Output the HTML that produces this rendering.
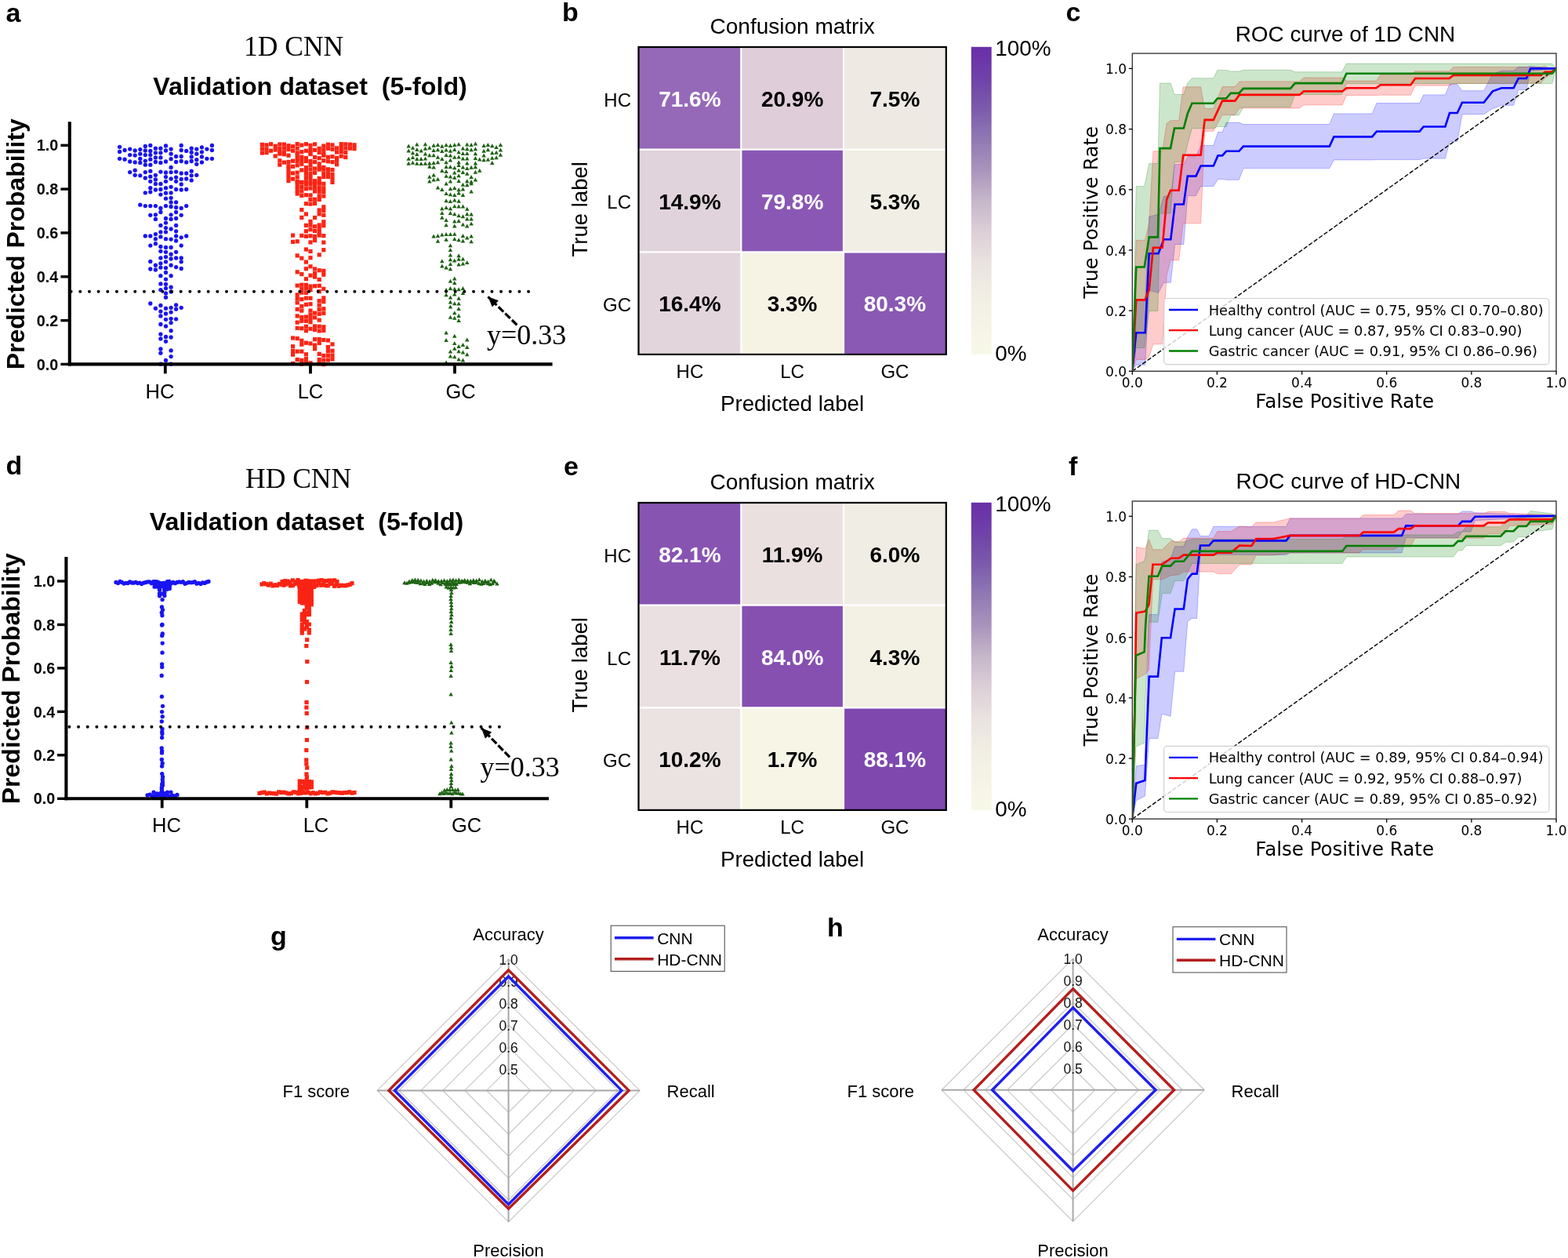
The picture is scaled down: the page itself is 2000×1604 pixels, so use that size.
<!DOCTYPE html>
<html><head><meta charset="utf-8"><style>
html,body{margin:0;padding:0;background:#fff;overflow:hidden;}
svg{display:block;}
text{white-space:pre;}
</style></head><body>
<svg width="2000" height="1604" viewBox="0 0 2000 1604">
<rect width="2000" height="1604" fill="#fff"/>
<text x="7.5" y="28.0" font-family='"Liberation Sans", Arial, sans-serif' font-size="34" font-weight="bold" text-anchor="start" fill="#000">a</text>
<text x="717.0" y="27.0" font-family='"Liberation Sans", Arial, sans-serif' font-size="34" font-weight="bold" text-anchor="start" fill="#000">b</text>
<text x="1359.4" y="26.5" font-family='"Liberation Sans", Arial, sans-serif' font-size="34" font-weight="bold" text-anchor="start" fill="#000">c</text>
<text x="7.5" y="605.0" font-family='"Liberation Sans", Arial, sans-serif' font-size="34" font-weight="bold" text-anchor="start" fill="#000">d</text>
<text x="719.0" y="605.5" font-family='"Liberation Sans", Arial, sans-serif' font-size="34" font-weight="bold" text-anchor="start" fill="#000">e</text>
<text x="1363.0" y="605.5" font-family='"Liberation Sans", Arial, sans-serif' font-size="34" font-weight="bold" text-anchor="start" fill="#000">f</text>
<text x="345.0" y="1205.0" font-family='"Liberation Sans", Arial, sans-serif' font-size="34" font-weight="bold" text-anchor="start" fill="#000">g</text>
<text x="1055.0" y="1194.0" font-family='"Liberation Sans", Arial, sans-serif' font-size="34" font-weight="bold" text-anchor="start" fill="#000">h</text>
<text x="311.0" y="71.0" font-family='"Liberation Serif", "Times New Roman", serif' font-size="35.5" font-weight="normal" text-anchor="start" fill="#000">1D CNN</text>
<text x="395.5" y="120.6" font-family='"Liberation Sans", Arial, sans-serif' font-size="32.2" font-weight="bold" text-anchor="middle" fill="#000">Validation dataset  (5-fold)</text>
<circle cx="152.6" cy="187.3" r="2.65" fill="#1a14f2"/>
<circle cx="152.6" cy="193.4" r="2.65" fill="#1a14f2"/>
<circle cx="152.6" cy="202.3" r="2.65" fill="#1a14f2"/>
<circle cx="159.1" cy="191.5" r="2.65" fill="#1a14f2"/>
<circle cx="159.1" cy="203.2" r="2.65" fill="#1a14f2"/>
<circle cx="165.7" cy="190.1" r="2.65" fill="#1a14f2"/>
<circle cx="165.7" cy="197.6" r="2.65" fill="#1a14f2"/>
<circle cx="165.7" cy="206.0" r="2.65" fill="#1a14f2"/>
<circle cx="172.2" cy="192.0" r="2.65" fill="#1a14f2"/>
<circle cx="172.2" cy="198.1" r="2.65" fill="#1a14f2"/>
<circle cx="172.2" cy="206.9" r="2.65" fill="#1a14f2"/>
<circle cx="178.8" cy="190.6" r="2.65" fill="#1a14f2"/>
<circle cx="178.8" cy="196.2" r="2.65" fill="#1a14f2"/>
<circle cx="178.8" cy="202.3" r="2.65" fill="#1a14f2"/>
<circle cx="178.8" cy="207.4" r="2.65" fill="#1a14f2"/>
<circle cx="185.3" cy="186.4" r="2.65" fill="#1a14f2"/>
<circle cx="185.3" cy="192.0" r="2.65" fill="#1a14f2"/>
<circle cx="185.3" cy="197.6" r="2.65" fill="#1a14f2"/>
<circle cx="185.3" cy="205.1" r="2.65" fill="#1a14f2"/>
<circle cx="185.3" cy="210.2" r="2.65" fill="#1a14f2"/>
<circle cx="191.8" cy="185.4" r="2.65" fill="#1a14f2"/>
<circle cx="191.8" cy="192.4" r="2.65" fill="#1a14f2"/>
<circle cx="191.8" cy="197.6" r="2.65" fill="#1a14f2"/>
<circle cx="191.8" cy="203.2" r="2.65" fill="#1a14f2"/>
<circle cx="191.8" cy="210.2" r="2.65" fill="#1a14f2"/>
<circle cx="198.4" cy="189.2" r="2.65" fill="#1a14f2"/>
<circle cx="198.4" cy="194.8" r="2.65" fill="#1a14f2"/>
<circle cx="198.4" cy="200.9" r="2.65" fill="#1a14f2"/>
<circle cx="198.4" cy="206.5" r="2.65" fill="#1a14f2"/>
<circle cx="204.9" cy="189.2" r="2.65" fill="#1a14f2"/>
<circle cx="204.9" cy="194.8" r="2.65" fill="#1a14f2"/>
<circle cx="204.9" cy="200.9" r="2.65" fill="#1a14f2"/>
<circle cx="204.9" cy="207.4" r="2.65" fill="#1a14f2"/>
<circle cx="211.5" cy="185.9" r="2.65" fill="#1a14f2"/>
<circle cx="211.5" cy="192.0" r="2.65" fill="#1a14f2"/>
<circle cx="211.5" cy="206.0" r="2.65" fill="#1a14f2"/>
<circle cx="218.1" cy="190.1" r="2.65" fill="#1a14f2"/>
<circle cx="218.1" cy="196.2" r="2.65" fill="#1a14f2"/>
<circle cx="218.1" cy="202.7" r="2.65" fill="#1a14f2"/>
<circle cx="224.6" cy="199.5" r="2.65" fill="#1a14f2"/>
<circle cx="224.6" cy="206.5" r="2.65" fill="#1a14f2"/>
<circle cx="231.2" cy="185.4" r="2.65" fill="#1a14f2"/>
<circle cx="231.2" cy="191.5" r="2.65" fill="#1a14f2"/>
<circle cx="231.2" cy="199.5" r="2.65" fill="#1a14f2"/>
<circle cx="231.2" cy="205.5" r="2.65" fill="#1a14f2"/>
<circle cx="237.7" cy="192.4" r="2.65" fill="#1a14f2"/>
<circle cx="237.7" cy="206.9" r="2.65" fill="#1a14f2"/>
<circle cx="244.2" cy="189.2" r="2.65" fill="#1a14f2"/>
<circle cx="244.2" cy="194.3" r="2.65" fill="#1a14f2"/>
<circle cx="244.2" cy="199.9" r="2.65" fill="#1a14f2"/>
<circle cx="244.2" cy="205.5" r="2.65" fill="#1a14f2"/>
<circle cx="250.8" cy="190.1" r="2.65" fill="#1a14f2"/>
<circle cx="250.8" cy="196.2" r="2.65" fill="#1a14f2"/>
<circle cx="250.8" cy="203.7" r="2.65" fill="#1a14f2"/>
<circle cx="250.8" cy="209.3" r="2.65" fill="#1a14f2"/>
<circle cx="257.4" cy="187.8" r="2.65" fill="#1a14f2"/>
<circle cx="257.4" cy="193.8" r="2.65" fill="#1a14f2"/>
<circle cx="257.4" cy="199.9" r="2.65" fill="#1a14f2"/>
<circle cx="257.4" cy="206.9" r="2.65" fill="#1a14f2"/>
<circle cx="263.9" cy="190.1" r="2.65" fill="#1a14f2"/>
<circle cx="263.9" cy="202.3" r="2.65" fill="#1a14f2"/>
<circle cx="270.4" cy="185.4" r="2.65" fill="#1a14f2"/>
<circle cx="270.4" cy="191.5" r="2.65" fill="#1a14f2"/>
<circle cx="270.4" cy="202.3" r="2.65" fill="#1a14f2"/>
<circle cx="218.1" cy="213.5" r="2.65" fill="#1a14f2"/>
<circle cx="218.1" cy="219.6" r="2.65" fill="#1a14f2"/>
<circle cx="218.1" cy="228.0" r="2.65" fill="#1a14f2"/>
<circle cx="165.7" cy="219.6" r="2.65" fill="#1a14f2"/>
<circle cx="172.2" cy="217.2" r="2.65" fill="#1a14f2"/>
<circle cx="172.2" cy="223.3" r="2.65" fill="#1a14f2"/>
<circle cx="178.8" cy="223.8" r="2.65" fill="#1a14f2"/>
<circle cx="185.3" cy="219.6" r="2.65" fill="#1a14f2"/>
<circle cx="185.3" cy="227.0" r="2.65" fill="#1a14f2"/>
<circle cx="191.8" cy="218.2" r="2.65" fill="#1a14f2"/>
<circle cx="191.8" cy="225.2" r="2.65" fill="#1a14f2"/>
<circle cx="191.8" cy="231.3" r="2.65" fill="#1a14f2"/>
<circle cx="198.4" cy="223.3" r="2.65" fill="#1a14f2"/>
<circle cx="198.4" cy="228.9" r="2.65" fill="#1a14f2"/>
<circle cx="198.4" cy="234.5" r="2.65" fill="#1a14f2"/>
<circle cx="204.9" cy="219.1" r="2.65" fill="#1a14f2"/>
<circle cx="204.9" cy="234.5" r="2.65" fill="#1a14f2"/>
<circle cx="211.5" cy="220.0" r="2.65" fill="#1a14f2"/>
<circle cx="211.5" cy="225.6" r="2.65" fill="#1a14f2"/>
<circle cx="211.5" cy="231.3" r="2.65" fill="#1a14f2"/>
<circle cx="224.6" cy="219.1" r="2.65" fill="#1a14f2"/>
<circle cx="224.6" cy="226.1" r="2.65" fill="#1a14f2"/>
<circle cx="224.6" cy="231.3" r="2.65" fill="#1a14f2"/>
<circle cx="231.2" cy="221.0" r="2.65" fill="#1a14f2"/>
<circle cx="231.2" cy="228.4" r="2.65" fill="#1a14f2"/>
<circle cx="231.2" cy="235.0" r="2.65" fill="#1a14f2"/>
<circle cx="237.7" cy="221.0" r="2.65" fill="#1a14f2"/>
<circle cx="237.7" cy="228.0" r="2.65" fill="#1a14f2"/>
<circle cx="244.2" cy="218.2" r="2.65" fill="#1a14f2"/>
<circle cx="244.2" cy="223.8" r="2.65" fill="#1a14f2"/>
<circle cx="244.2" cy="229.9" r="2.65" fill="#1a14f2"/>
<circle cx="250.8" cy="223.3" r="2.65" fill="#1a14f2"/>
<circle cx="185.3" cy="245.8" r="2.65" fill="#1a14f2"/>
<circle cx="191.8" cy="239.7" r="2.65" fill="#1a14f2"/>
<circle cx="191.8" cy="244.8" r="2.65" fill="#1a14f2"/>
<circle cx="198.4" cy="242.0" r="2.65" fill="#1a14f2"/>
<circle cx="204.9" cy="241.5" r="2.65" fill="#1a14f2"/>
<circle cx="204.9" cy="248.1" r="2.65" fill="#1a14f2"/>
<circle cx="211.5" cy="239.7" r="2.65" fill="#1a14f2"/>
<circle cx="211.5" cy="246.2" r="2.65" fill="#1a14f2"/>
<circle cx="211.5" cy="253.2" r="2.65" fill="#1a14f2"/>
<circle cx="218.1" cy="238.3" r="2.65" fill="#1a14f2"/>
<circle cx="218.1" cy="245.8" r="2.65" fill="#1a14f2"/>
<circle cx="218.1" cy="252.3" r="2.65" fill="#1a14f2"/>
<circle cx="218.1" cy="257.9" r="2.65" fill="#1a14f2"/>
<circle cx="224.6" cy="241.5" r="2.65" fill="#1a14f2"/>
<circle cx="224.6" cy="257.9" r="2.65" fill="#1a14f2"/>
<circle cx="231.2" cy="242.0" r="2.65" fill="#1a14f2"/>
<circle cx="237.7" cy="241.5" r="2.65" fill="#1a14f2"/>
<circle cx="178.8" cy="261.2" r="2.65" fill="#1a14f2"/>
<circle cx="185.3" cy="262.6" r="2.65" fill="#1a14f2"/>
<circle cx="191.8" cy="262.6" r="2.65" fill="#1a14f2"/>
<circle cx="191.8" cy="274.3" r="2.65" fill="#1a14f2"/>
<circle cx="198.4" cy="262.6" r="2.65" fill="#1a14f2"/>
<circle cx="198.4" cy="273.8" r="2.65" fill="#1a14f2"/>
<circle cx="198.4" cy="279.4" r="2.65" fill="#1a14f2"/>
<circle cx="204.9" cy="265.4" r="2.65" fill="#1a14f2"/>
<circle cx="204.9" cy="270.5" r="2.65" fill="#1a14f2"/>
<circle cx="211.5" cy="262.6" r="2.65" fill="#1a14f2"/>
<circle cx="211.5" cy="278.5" r="2.65" fill="#1a14f2"/>
<circle cx="211.5" cy="284.1" r="2.65" fill="#1a14f2"/>
<circle cx="218.1" cy="263.5" r="2.65" fill="#1a14f2"/>
<circle cx="218.1" cy="273.8" r="2.65" fill="#1a14f2"/>
<circle cx="218.1" cy="279.4" r="2.65" fill="#1a14f2"/>
<circle cx="224.6" cy="264.5" r="2.65" fill="#1a14f2"/>
<circle cx="224.6" cy="270.5" r="2.65" fill="#1a14f2"/>
<circle cx="224.6" cy="278.5" r="2.65" fill="#1a14f2"/>
<circle cx="231.2" cy="265.4" r="2.65" fill="#1a14f2"/>
<circle cx="231.2" cy="274.3" r="2.65" fill="#1a14f2"/>
<circle cx="237.7" cy="262.6" r="2.65" fill="#1a14f2"/>
<circle cx="204.9" cy="287.4" r="2.65" fill="#1a14f2"/>
<circle cx="204.9" cy="295.8" r="2.65" fill="#1a14f2"/>
<circle cx="204.9" cy="301.9" r="2.65" fill="#1a14f2"/>
<circle cx="204.9" cy="314.5" r="2.65" fill="#1a14f2"/>
<circle cx="211.5" cy="290.6" r="2.65" fill="#1a14f2"/>
<circle cx="211.5" cy="295.8" r="2.65" fill="#1a14f2"/>
<circle cx="211.5" cy="304.7" r="2.65" fill="#1a14f2"/>
<circle cx="211.5" cy="315.4" r="2.65" fill="#1a14f2"/>
<circle cx="218.1" cy="292.0" r="2.65" fill="#1a14f2"/>
<circle cx="218.1" cy="305.1" r="2.65" fill="#1a14f2"/>
<circle cx="218.1" cy="315.4" r="2.65" fill="#1a14f2"/>
<circle cx="224.6" cy="287.4" r="2.65" fill="#1a14f2"/>
<circle cx="224.6" cy="294.8" r="2.65" fill="#1a14f2"/>
<circle cx="224.6" cy="300.9" r="2.65" fill="#1a14f2"/>
<circle cx="224.6" cy="307.0" r="2.65" fill="#1a14f2"/>
<circle cx="198.4" cy="298.6" r="2.65" fill="#1a14f2"/>
<circle cx="198.4" cy="304.7" r="2.65" fill="#1a14f2"/>
<circle cx="198.4" cy="310.7" r="2.65" fill="#1a14f2"/>
<circle cx="191.8" cy="300.9" r="2.65" fill="#1a14f2"/>
<circle cx="191.8" cy="313.1" r="2.65" fill="#1a14f2"/>
<circle cx="185.3" cy="300.9" r="2.65" fill="#1a14f2"/>
<circle cx="231.2" cy="302.8" r="2.65" fill="#1a14f2"/>
<circle cx="231.2" cy="313.1" r="2.65" fill="#1a14f2"/>
<circle cx="237.7" cy="300.9" r="2.65" fill="#1a14f2"/>
<circle cx="191.8" cy="333.4" r="2.65" fill="#1a14f2"/>
<circle cx="191.8" cy="343.0" r="2.65" fill="#1a14f2"/>
<circle cx="191.8" cy="387.0" r="2.65" fill="#1a14f2"/>
<circle cx="198.4" cy="338.2" r="2.65" fill="#1a14f2"/>
<circle cx="198.4" cy="344.0" r="2.65" fill="#1a14f2"/>
<circle cx="198.4" cy="393.2" r="2.65" fill="#1a14f2"/>
<circle cx="204.9" cy="320.3" r="2.65" fill="#1a14f2"/>
<circle cx="204.9" cy="329.0" r="2.65" fill="#1a14f2"/>
<circle cx="204.9" cy="335.8" r="2.65" fill="#1a14f2"/>
<circle cx="204.9" cy="341.1" r="2.65" fill="#1a14f2"/>
<circle cx="204.9" cy="351.7" r="2.65" fill="#1a14f2"/>
<circle cx="204.9" cy="361.9" r="2.65" fill="#1a14f2"/>
<circle cx="204.9" cy="369.6" r="2.65" fill="#1a14f2"/>
<circle cx="204.9" cy="389.4" r="2.65" fill="#1a14f2"/>
<circle cx="204.9" cy="397.1" r="2.65" fill="#1a14f2"/>
<circle cx="204.9" cy="402.9" r="2.65" fill="#1a14f2"/>
<circle cx="204.9" cy="413.5" r="2.65" fill="#1a14f2"/>
<circle cx="204.9" cy="426.1" r="2.65" fill="#1a14f2"/>
<circle cx="204.9" cy="431.9" r="2.65" fill="#1a14f2"/>
<circle cx="204.9" cy="444.9" r="2.65" fill="#1a14f2"/>
<circle cx="204.9" cy="450.2" r="2.65" fill="#1a14f2"/>
<circle cx="204.9" cy="464.2" r="2.65" fill="#1a14f2"/>
<circle cx="211.5" cy="321.3" r="2.65" fill="#1a14f2"/>
<circle cx="211.5" cy="327.6" r="2.65" fill="#1a14f2"/>
<circle cx="211.5" cy="333.8" r="2.65" fill="#1a14f2"/>
<circle cx="211.5" cy="341.6" r="2.65" fill="#1a14f2"/>
<circle cx="211.5" cy="347.4" r="2.65" fill="#1a14f2"/>
<circle cx="211.5" cy="356.1" r="2.65" fill="#1a14f2"/>
<circle cx="211.5" cy="362.3" r="2.65" fill="#1a14f2"/>
<circle cx="211.5" cy="367.6" r="2.65" fill="#1a14f2"/>
<circle cx="211.5" cy="373.9" r="2.65" fill="#1a14f2"/>
<circle cx="211.5" cy="379.2" r="2.65" fill="#1a14f2"/>
<circle cx="211.5" cy="393.2" r="2.65" fill="#1a14f2"/>
<circle cx="211.5" cy="400.0" r="2.65" fill="#1a14f2"/>
<circle cx="211.5" cy="407.3" r="2.65" fill="#1a14f2"/>
<circle cx="211.5" cy="415.9" r="2.65" fill="#1a14f2"/>
<circle cx="211.5" cy="429.5" r="2.65" fill="#1a14f2"/>
<circle cx="211.5" cy="435.3" r="2.65" fill="#1a14f2"/>
<circle cx="211.5" cy="459.4" r="2.65" fill="#1a14f2"/>
<circle cx="218.1" cy="324.2" r="2.65" fill="#1a14f2"/>
<circle cx="218.1" cy="330.0" r="2.65" fill="#1a14f2"/>
<circle cx="218.1" cy="338.2" r="2.65" fill="#1a14f2"/>
<circle cx="218.1" cy="351.7" r="2.65" fill="#1a14f2"/>
<circle cx="218.1" cy="366.2" r="2.65" fill="#1a14f2"/>
<circle cx="218.1" cy="372.0" r="2.65" fill="#1a14f2"/>
<circle cx="218.1" cy="392.3" r="2.65" fill="#1a14f2"/>
<circle cx="218.1" cy="398.1" r="2.65" fill="#1a14f2"/>
<circle cx="218.1" cy="406.3" r="2.65" fill="#1a14f2"/>
<circle cx="218.1" cy="411.6" r="2.65" fill="#1a14f2"/>
<circle cx="218.1" cy="421.7" r="2.65" fill="#1a14f2"/>
<circle cx="218.1" cy="430.0" r="2.65" fill="#1a14f2"/>
<circle cx="218.1" cy="446.9" r="2.65" fill="#1a14f2"/>
<circle cx="218.1" cy="454.6" r="2.65" fill="#1a14f2"/>
<circle cx="218.1" cy="464.2" r="2.65" fill="#1a14f2"/>
<circle cx="224.6" cy="321.3" r="2.65" fill="#1a14f2"/>
<circle cx="224.6" cy="329.0" r="2.65" fill="#1a14f2"/>
<circle cx="224.6" cy="340.6" r="2.65" fill="#1a14f2"/>
<circle cx="224.6" cy="388.9" r="2.65" fill="#1a14f2"/>
<circle cx="224.6" cy="394.2" r="2.65" fill="#1a14f2"/>
<circle cx="224.6" cy="406.8" r="2.65" fill="#1a14f2"/>
<circle cx="231.2" cy="329.0" r="2.65" fill="#1a14f2"/>
<circle cx="231.2" cy="333.8" r="2.65" fill="#1a14f2"/>
<circle cx="231.2" cy="342.5" r="2.65" fill="#1a14f2"/>
<circle cx="231.2" cy="392.3" r="2.65" fill="#1a14f2"/>
<rect x="331.8" y="181.8" width="5.2" height="5.2" fill="#fa2414"/>
<rect x="331.8" y="187.2" width="5.2" height="5.2" fill="#fa2414"/>
<rect x="331.8" y="192.4" width="5.2" height="5.2" fill="#fa2414"/>
<rect x="337.4" y="182.3" width="5.2" height="5.2" fill="#fa2414"/>
<rect x="337.4" y="187.4" width="5.2" height="5.2" fill="#fa2414"/>
<rect x="337.4" y="192.1" width="5.2" height="5.2" fill="#fa2414"/>
<rect x="343.0" y="181.2" width="5.2" height="5.2" fill="#fa2414"/>
<rect x="343.0" y="189.6" width="5.2" height="5.2" fill="#fa2414"/>
<rect x="348.6" y="183.7" width="5.2" height="5.2" fill="#fa2414"/>
<rect x="348.6" y="188.4" width="5.2" height="5.2" fill="#fa2414"/>
<rect x="354.2" y="181.4" width="5.2" height="5.2" fill="#fa2414"/>
<rect x="354.2" y="186.8" width="5.2" height="5.2" fill="#fa2414"/>
<rect x="354.2" y="192.0" width="5.2" height="5.2" fill="#fa2414"/>
<rect x="359.8" y="181.5" width="5.2" height="5.2" fill="#fa2414"/>
<rect x="359.8" y="186.6" width="5.2" height="5.2" fill="#fa2414"/>
<rect x="359.8" y="191.9" width="5.2" height="5.2" fill="#fa2414"/>
<rect x="365.4" y="183.1" width="5.2" height="5.2" fill="#fa2414"/>
<rect x="365.4" y="188.0" width="5.2" height="5.2" fill="#fa2414"/>
<rect x="371.0" y="184.1" width="5.2" height="5.2" fill="#fa2414"/>
<rect x="371.0" y="189.6" width="5.2" height="5.2" fill="#fa2414"/>
<rect x="376.6" y="181.0" width="5.2" height="5.2" fill="#fa2414"/>
<rect x="376.6" y="186.5" width="5.2" height="5.2" fill="#fa2414"/>
<rect x="376.6" y="192.2" width="5.2" height="5.2" fill="#fa2414"/>
<rect x="382.2" y="182.5" width="5.2" height="5.2" fill="#fa2414"/>
<rect x="382.2" y="191.1" width="5.2" height="5.2" fill="#fa2414"/>
<rect x="387.8" y="181.1" width="5.2" height="5.2" fill="#fa2414"/>
<rect x="387.8" y="189.7" width="5.2" height="5.2" fill="#fa2414"/>
<rect x="393.4" y="182.7" width="5.2" height="5.2" fill="#fa2414"/>
<rect x="393.4" y="187.9" width="5.2" height="5.2" fill="#fa2414"/>
<rect x="393.4" y="192.6" width="5.2" height="5.2" fill="#fa2414"/>
<rect x="399.0" y="181.3" width="5.2" height="5.2" fill="#fa2414"/>
<rect x="399.0" y="188.7" width="5.2" height="5.2" fill="#fa2414"/>
<rect x="404.6" y="186.7" width="5.2" height="5.2" fill="#fa2414"/>
<rect x="404.6" y="191.8" width="5.2" height="5.2" fill="#fa2414"/>
<rect x="410.2" y="183.5" width="5.2" height="5.2" fill="#fa2414"/>
<rect x="410.2" y="188.4" width="5.2" height="5.2" fill="#fa2414"/>
<rect x="410.2" y="193.2" width="5.2" height="5.2" fill="#fa2414"/>
<rect x="415.8" y="181.6" width="5.2" height="5.2" fill="#fa2414"/>
<rect x="415.8" y="186.7" width="5.2" height="5.2" fill="#fa2414"/>
<rect x="421.4" y="182.3" width="5.2" height="5.2" fill="#fa2414"/>
<rect x="421.4" y="187.7" width="5.2" height="5.2" fill="#fa2414"/>
<rect x="427.0" y="186.3" width="5.2" height="5.2" fill="#fa2414"/>
<rect x="427.0" y="191.4" width="5.2" height="5.2" fill="#fa2414"/>
<rect x="432.6" y="181.1" width="5.2" height="5.2" fill="#fa2414"/>
<rect x="432.6" y="185.9" width="5.2" height="5.2" fill="#fa2414"/>
<rect x="432.6" y="190.9" width="5.2" height="5.2" fill="#fa2414"/>
<rect x="438.2" y="181.3" width="5.2" height="5.2" fill="#fa2414"/>
<rect x="438.2" y="186.4" width="5.2" height="5.2" fill="#fa2414"/>
<rect x="438.2" y="192.0" width="5.2" height="5.2" fill="#fa2414"/>
<rect x="443.8" y="181.6" width="5.2" height="5.2" fill="#fa2414"/>
<rect x="443.8" y="186.6" width="5.2" height="5.2" fill="#fa2414"/>
<rect x="449.4" y="182.2" width="5.2" height="5.2" fill="#fa2414"/>
<rect x="449.4" y="187.0" width="5.2" height="5.2" fill="#fa2414"/>
<rect x="348.6" y="196.4" width="5.2" height="5.2" fill="#fa2414"/>
<rect x="354.2" y="193.5" width="5.2" height="5.2" fill="#fa2414"/>
<rect x="359.8" y="194.1" width="5.2" height="5.2" fill="#fa2414"/>
<rect x="365.4" y="195.6" width="5.2" height="5.2" fill="#fa2414"/>
<rect x="376.6" y="194.8" width="5.2" height="5.2" fill="#fa2414"/>
<rect x="376.6" y="199.5" width="5.2" height="5.2" fill="#fa2414"/>
<rect x="382.2" y="197.6" width="5.2" height="5.2" fill="#fa2414"/>
<rect x="387.8" y="198.9" width="5.2" height="5.2" fill="#fa2414"/>
<rect x="393.4" y="193.9" width="5.2" height="5.2" fill="#fa2414"/>
<rect x="399.0" y="198.0" width="5.2" height="5.2" fill="#fa2414"/>
<rect x="404.6" y="199.1" width="5.2" height="5.2" fill="#fa2414"/>
<rect x="410.2" y="195.6" width="5.2" height="5.2" fill="#fa2414"/>
<rect x="415.8" y="197.7" width="5.2" height="5.2" fill="#fa2414"/>
<rect x="421.4" y="197.1" width="5.2" height="5.2" fill="#fa2414"/>
<rect x="427.0" y="198.8" width="5.2" height="5.2" fill="#fa2414"/>
<rect x="432.6" y="196.5" width="5.2" height="5.2" fill="#fa2414"/>
<rect x="438.2" y="197.9" width="5.2" height="5.2" fill="#fa2414"/>
<rect x="354.2" y="202.2" width="5.2" height="5.2" fill="#fa2414"/>
<rect x="354.2" y="207.5" width="5.2" height="5.2" fill="#fa2414"/>
<rect x="359.8" y="204.5" width="5.2" height="5.2" fill="#fa2414"/>
<rect x="365.4" y="203.9" width="5.2" height="5.2" fill="#fa2414"/>
<rect x="365.4" y="209.2" width="5.2" height="5.2" fill="#fa2414"/>
<rect x="371.0" y="202.6" width="5.2" height="5.2" fill="#fa2414"/>
<rect x="371.0" y="209.7" width="5.2" height="5.2" fill="#fa2414"/>
<rect x="376.6" y="202.9" width="5.2" height="5.2" fill="#fa2414"/>
<rect x="376.6" y="208.2" width="5.2" height="5.2" fill="#fa2414"/>
<rect x="382.2" y="201.7" width="5.2" height="5.2" fill="#fa2414"/>
<rect x="382.2" y="206.6" width="5.2" height="5.2" fill="#fa2414"/>
<rect x="387.8" y="202.8" width="5.2" height="5.2" fill="#fa2414"/>
<rect x="387.8" y="211.1" width="5.2" height="5.2" fill="#fa2414"/>
<rect x="393.4" y="202.8" width="5.2" height="5.2" fill="#fa2414"/>
<rect x="393.4" y="208.0" width="5.2" height="5.2" fill="#fa2414"/>
<rect x="399.0" y="204.0" width="5.2" height="5.2" fill="#fa2414"/>
<rect x="404.6" y="206.3" width="5.2" height="5.2" fill="#fa2414"/>
<rect x="404.6" y="211.0" width="5.2" height="5.2" fill="#fa2414"/>
<rect x="410.2" y="202.1" width="5.2" height="5.2" fill="#fa2414"/>
<rect x="410.2" y="210.8" width="5.2" height="5.2" fill="#fa2414"/>
<rect x="415.8" y="203.2" width="5.2" height="5.2" fill="#fa2414"/>
<rect x="421.4" y="204.0" width="5.2" height="5.2" fill="#fa2414"/>
<rect x="427.0" y="201.8" width="5.2" height="5.2" fill="#fa2414"/>
<rect x="427.0" y="207.1" width="5.2" height="5.2" fill="#fa2414"/>
<rect x="365.4" y="213.3" width="5.2" height="5.2" fill="#fa2414"/>
<rect x="365.4" y="217.9" width="5.2" height="5.2" fill="#fa2414"/>
<rect x="365.4" y="223.0" width="5.2" height="5.2" fill="#fa2414"/>
<rect x="365.4" y="228.0" width="5.2" height="5.2" fill="#fa2414"/>
<rect x="371.0" y="218.2" width="5.2" height="5.2" fill="#fa2414"/>
<rect x="371.0" y="225.5" width="5.2" height="5.2" fill="#fa2414"/>
<rect x="376.6" y="217.5" width="5.2" height="5.2" fill="#fa2414"/>
<rect x="376.6" y="223.2" width="5.2" height="5.2" fill="#fa2414"/>
<rect x="376.6" y="228.7" width="5.2" height="5.2" fill="#fa2414"/>
<rect x="382.2" y="214.3" width="5.2" height="5.2" fill="#fa2414"/>
<rect x="382.2" y="229.7" width="5.2" height="5.2" fill="#fa2414"/>
<rect x="387.8" y="215.0" width="5.2" height="5.2" fill="#fa2414"/>
<rect x="387.8" y="219.7" width="5.2" height="5.2" fill="#fa2414"/>
<rect x="387.8" y="224.6" width="5.2" height="5.2" fill="#fa2414"/>
<rect x="387.8" y="229.4" width="5.2" height="5.2" fill="#fa2414"/>
<rect x="393.4" y="213.3" width="5.2" height="5.2" fill="#fa2414"/>
<rect x="393.4" y="218.8" width="5.2" height="5.2" fill="#fa2414"/>
<rect x="393.4" y="224.0" width="5.2" height="5.2" fill="#fa2414"/>
<rect x="393.4" y="229.0" width="5.2" height="5.2" fill="#fa2414"/>
<rect x="399.0" y="212.4" width="5.2" height="5.2" fill="#fa2414"/>
<rect x="399.0" y="217.7" width="5.2" height="5.2" fill="#fa2414"/>
<rect x="399.0" y="228.1" width="5.2" height="5.2" fill="#fa2414"/>
<rect x="404.6" y="213.5" width="5.2" height="5.2" fill="#fa2414"/>
<rect x="404.6" y="224.8" width="5.2" height="5.2" fill="#fa2414"/>
<rect x="404.6" y="229.9" width="5.2" height="5.2" fill="#fa2414"/>
<rect x="410.2" y="212.8" width="5.2" height="5.2" fill="#fa2414"/>
<rect x="410.2" y="218.2" width="5.2" height="5.2" fill="#fa2414"/>
<rect x="410.2" y="223.0" width="5.2" height="5.2" fill="#fa2414"/>
<rect x="415.8" y="213.2" width="5.2" height="5.2" fill="#fa2414"/>
<rect x="415.8" y="218.1" width="5.2" height="5.2" fill="#fa2414"/>
<rect x="415.8" y="222.9" width="5.2" height="5.2" fill="#fa2414"/>
<rect x="421.4" y="213.9" width="5.2" height="5.2" fill="#fa2414"/>
<rect x="421.4" y="219.7" width="5.2" height="5.2" fill="#fa2414"/>
<rect x="421.4" y="224.7" width="5.2" height="5.2" fill="#fa2414"/>
<rect x="421.4" y="229.8" width="5.2" height="5.2" fill="#fa2414"/>
<rect x="376.6" y="230.5" width="5.2" height="5.2" fill="#fa2414"/>
<rect x="376.6" y="235.1" width="5.2" height="5.2" fill="#fa2414"/>
<rect x="376.6" y="239.8" width="5.2" height="5.2" fill="#fa2414"/>
<rect x="376.6" y="244.4" width="5.2" height="5.2" fill="#fa2414"/>
<rect x="382.2" y="230.5" width="5.2" height="5.2" fill="#fa2414"/>
<rect x="382.2" y="235.8" width="5.2" height="5.2" fill="#fa2414"/>
<rect x="382.2" y="241.2" width="5.2" height="5.2" fill="#fa2414"/>
<rect x="382.2" y="246.8" width="5.2" height="5.2" fill="#fa2414"/>
<rect x="387.8" y="232.6" width="5.2" height="5.2" fill="#fa2414"/>
<rect x="387.8" y="238.1" width="5.2" height="5.2" fill="#fa2414"/>
<rect x="387.8" y="246.1" width="5.2" height="5.2" fill="#fa2414"/>
<rect x="393.4" y="232.1" width="5.2" height="5.2" fill="#fa2414"/>
<rect x="393.4" y="237.4" width="5.2" height="5.2" fill="#fa2414"/>
<rect x="393.4" y="246.3" width="5.2" height="5.2" fill="#fa2414"/>
<rect x="399.0" y="231.8" width="5.2" height="5.2" fill="#fa2414"/>
<rect x="399.0" y="236.7" width="5.2" height="5.2" fill="#fa2414"/>
<rect x="399.0" y="241.4" width="5.2" height="5.2" fill="#fa2414"/>
<rect x="404.6" y="231.6" width="5.2" height="5.2" fill="#fa2414"/>
<rect x="404.6" y="237.0" width="5.2" height="5.2" fill="#fa2414"/>
<rect x="404.6" y="241.7" width="5.2" height="5.2" fill="#fa2414"/>
<rect x="404.6" y="247.2" width="5.2" height="5.2" fill="#fa2414"/>
<rect x="410.2" y="231.7" width="5.2" height="5.2" fill="#fa2414"/>
<rect x="410.2" y="237.2" width="5.2" height="5.2" fill="#fa2414"/>
<rect x="410.2" y="241.9" width="5.2" height="5.2" fill="#fa2414"/>
<rect x="410.2" y="247.4" width="5.2" height="5.2" fill="#fa2414"/>
<rect x="382.2" y="264.9" width="5.2" height="5.2" fill="#fa2414"/>
<rect x="382.2" y="274.8" width="5.2" height="5.2" fill="#fa2414"/>
<rect x="387.8" y="257.1" width="5.2" height="5.2" fill="#fa2414"/>
<rect x="387.8" y="270.4" width="5.2" height="5.2" fill="#fa2414"/>
<rect x="387.8" y="284.8" width="5.2" height="5.2" fill="#fa2414"/>
<rect x="387.8" y="292.2" width="5.2" height="5.2" fill="#fa2414"/>
<rect x="393.4" y="251.8" width="5.2" height="5.2" fill="#fa2414"/>
<rect x="393.4" y="257.5" width="5.2" height="5.2" fill="#fa2414"/>
<rect x="393.4" y="279.8" width="5.2" height="5.2" fill="#fa2414"/>
<rect x="393.4" y="284.5" width="5.2" height="5.2" fill="#fa2414"/>
<rect x="393.4" y="290.1" width="5.2" height="5.2" fill="#fa2414"/>
<rect x="399.0" y="251.6" width="5.2" height="5.2" fill="#fa2414"/>
<rect x="399.0" y="256.8" width="5.2" height="5.2" fill="#fa2414"/>
<rect x="399.0" y="274.9" width="5.2" height="5.2" fill="#fa2414"/>
<rect x="399.0" y="286.2" width="5.2" height="5.2" fill="#fa2414"/>
<rect x="399.0" y="291.9" width="5.2" height="5.2" fill="#fa2414"/>
<rect x="404.6" y="251.8" width="5.2" height="5.2" fill="#fa2414"/>
<rect x="404.6" y="265.4" width="5.2" height="5.2" fill="#fa2414"/>
<rect x="404.6" y="270.2" width="5.2" height="5.2" fill="#fa2414"/>
<rect x="404.6" y="284.4" width="5.2" height="5.2" fill="#fa2414"/>
<rect x="404.6" y="289.1" width="5.2" height="5.2" fill="#fa2414"/>
<rect x="404.6" y="293.8" width="5.2" height="5.2" fill="#fa2414"/>
<rect x="410.2" y="261.2" width="5.2" height="5.2" fill="#fa2414"/>
<rect x="410.2" y="265.9" width="5.2" height="5.2" fill="#fa2414"/>
<rect x="410.2" y="271.7" width="5.2" height="5.2" fill="#fa2414"/>
<rect x="410.2" y="280.2" width="5.2" height="5.2" fill="#fa2414"/>
<rect x="410.2" y="285.1" width="5.2" height="5.2" fill="#fa2414"/>
<rect x="371.0" y="297.5" width="5.2" height="5.2" fill="#fa2414"/>
<rect x="371.0" y="305.8" width="5.2" height="5.2" fill="#fa2414"/>
<rect x="376.6" y="305.2" width="5.2" height="5.2" fill="#fa2414"/>
<rect x="382.2" y="297.8" width="5.2" height="5.2" fill="#fa2414"/>
<rect x="387.8" y="298.7" width="5.2" height="5.2" fill="#fa2414"/>
<rect x="393.4" y="298.2" width="5.2" height="5.2" fill="#fa2414"/>
<rect x="393.4" y="306.3" width="5.2" height="5.2" fill="#fa2414"/>
<rect x="399.0" y="298.8" width="5.2" height="5.2" fill="#fa2414"/>
<rect x="399.0" y="303.9" width="5.2" height="5.2" fill="#fa2414"/>
<rect x="404.6" y="297.4" width="5.2" height="5.2" fill="#fa2414"/>
<rect x="410.2" y="298.0" width="5.2" height="5.2" fill="#fa2414"/>
<rect x="410.2" y="306.5" width="5.2" height="5.2" fill="#fa2414"/>
<rect x="376.6" y="323.3" width="5.2" height="5.2" fill="#fa2414"/>
<rect x="376.6" y="344.2" width="5.2" height="5.2" fill="#fa2414"/>
<rect x="382.2" y="326.6" width="5.2" height="5.2" fill="#fa2414"/>
<rect x="382.2" y="347.0" width="5.2" height="5.2" fill="#fa2414"/>
<rect x="387.8" y="315.4" width="5.2" height="5.2" fill="#fa2414"/>
<rect x="387.8" y="331.5" width="5.2" height="5.2" fill="#fa2414"/>
<rect x="387.8" y="340.1" width="5.2" height="5.2" fill="#fa2414"/>
<rect x="387.8" y="353.1" width="5.2" height="5.2" fill="#fa2414"/>
<rect x="393.4" y="317.9" width="5.2" height="5.2" fill="#fa2414"/>
<rect x="393.4" y="326.1" width="5.2" height="5.2" fill="#fa2414"/>
<rect x="393.4" y="337.2" width="5.2" height="5.2" fill="#fa2414"/>
<rect x="393.4" y="348.6" width="5.2" height="5.2" fill="#fa2414"/>
<rect x="399.0" y="340.3" width="5.2" height="5.2" fill="#fa2414"/>
<rect x="399.0" y="345.8" width="5.2" height="5.2" fill="#fa2414"/>
<rect x="399.0" y="350.5" width="5.2" height="5.2" fill="#fa2414"/>
<rect x="404.6" y="322.3" width="5.2" height="5.2" fill="#fa2414"/>
<rect x="404.6" y="342.1" width="5.2" height="5.2" fill="#fa2414"/>
<rect x="404.6" y="353.8" width="5.2" height="5.2" fill="#fa2414"/>
<rect x="410.2" y="316.1" width="5.2" height="5.2" fill="#fa2414"/>
<rect x="410.2" y="342.7" width="5.2" height="5.2" fill="#fa2414"/>
<rect x="410.2" y="347.6" width="5.2" height="5.2" fill="#fa2414"/>
<rect x="376.6" y="361.5" width="5.2" height="5.2" fill="#fa2414"/>
<rect x="376.6" y="373.2" width="5.2" height="5.2" fill="#fa2414"/>
<rect x="382.2" y="360.6" width="5.2" height="5.2" fill="#fa2414"/>
<rect x="382.2" y="365.7" width="5.2" height="5.2" fill="#fa2414"/>
<rect x="382.2" y="370.5" width="5.2" height="5.2" fill="#fa2414"/>
<rect x="387.8" y="360.7" width="5.2" height="5.2" fill="#fa2414"/>
<rect x="387.8" y="365.3" width="5.2" height="5.2" fill="#fa2414"/>
<rect x="387.8" y="370.7" width="5.2" height="5.2" fill="#fa2414"/>
<rect x="393.4" y="362.4" width="5.2" height="5.2" fill="#fa2414"/>
<rect x="393.4" y="367.1" width="5.2" height="5.2" fill="#fa2414"/>
<rect x="399.0" y="362.1" width="5.2" height="5.2" fill="#fa2414"/>
<rect x="404.6" y="361.7" width="5.2" height="5.2" fill="#fa2414"/>
<rect x="404.6" y="369.0" width="5.2" height="5.2" fill="#fa2414"/>
<rect x="410.2" y="365.7" width="5.2" height="5.2" fill="#fa2414"/>
<rect x="376.6" y="378.1" width="5.2" height="5.2" fill="#fa2414"/>
<rect x="376.6" y="383.3" width="5.2" height="5.2" fill="#fa2414"/>
<rect x="376.6" y="391.7" width="5.2" height="5.2" fill="#fa2414"/>
<rect x="376.6" y="400.3" width="5.2" height="5.2" fill="#fa2414"/>
<rect x="376.6" y="408.5" width="5.2" height="5.2" fill="#fa2414"/>
<rect x="382.2" y="379.0" width="5.2" height="5.2" fill="#fa2414"/>
<rect x="382.2" y="387.9" width="5.2" height="5.2" fill="#fa2414"/>
<rect x="382.2" y="393.5" width="5.2" height="5.2" fill="#fa2414"/>
<rect x="382.2" y="401.9" width="5.2" height="5.2" fill="#fa2414"/>
<rect x="382.2" y="406.7" width="5.2" height="5.2" fill="#fa2414"/>
<rect x="387.8" y="377.5" width="5.2" height="5.2" fill="#fa2414"/>
<rect x="387.8" y="385.7" width="5.2" height="5.2" fill="#fa2414"/>
<rect x="387.8" y="401.4" width="5.2" height="5.2" fill="#fa2414"/>
<rect x="387.8" y="406.7" width="5.2" height="5.2" fill="#fa2414"/>
<rect x="393.4" y="377.6" width="5.2" height="5.2" fill="#fa2414"/>
<rect x="393.4" y="385.1" width="5.2" height="5.2" fill="#fa2414"/>
<rect x="393.4" y="393.5" width="5.2" height="5.2" fill="#fa2414"/>
<rect x="393.4" y="398.7" width="5.2" height="5.2" fill="#fa2414"/>
<rect x="393.4" y="403.4" width="5.2" height="5.2" fill="#fa2414"/>
<rect x="393.4" y="408.1" width="5.2" height="5.2" fill="#fa2414"/>
<rect x="399.0" y="396.5" width="5.2" height="5.2" fill="#fa2414"/>
<rect x="399.0" y="402.3" width="5.2" height="5.2" fill="#fa2414"/>
<rect x="404.6" y="381.0" width="5.2" height="5.2" fill="#fa2414"/>
<rect x="404.6" y="386.5" width="5.2" height="5.2" fill="#fa2414"/>
<rect x="404.6" y="392.1" width="5.2" height="5.2" fill="#fa2414"/>
<rect x="404.6" y="397.7" width="5.2" height="5.2" fill="#fa2414"/>
<rect x="404.6" y="405.5" width="5.2" height="5.2" fill="#fa2414"/>
<rect x="410.2" y="377.3" width="5.2" height="5.2" fill="#fa2414"/>
<rect x="410.2" y="382.1" width="5.2" height="5.2" fill="#fa2414"/>
<rect x="410.2" y="391.2" width="5.2" height="5.2" fill="#fa2414"/>
<rect x="410.2" y="396.7" width="5.2" height="5.2" fill="#fa2414"/>
<rect x="376.6" y="415.7" width="5.2" height="5.2" fill="#fa2414"/>
<rect x="382.2" y="416.1" width="5.2" height="5.2" fill="#fa2414"/>
<rect x="387.8" y="413.6" width="5.2" height="5.2" fill="#fa2414"/>
<rect x="387.8" y="419.1" width="5.2" height="5.2" fill="#fa2414"/>
<rect x="393.4" y="416.6" width="5.2" height="5.2" fill="#fa2414"/>
<rect x="399.0" y="413.3" width="5.2" height="5.2" fill="#fa2414"/>
<rect x="399.0" y="417.9" width="5.2" height="5.2" fill="#fa2414"/>
<rect x="404.6" y="413.6" width="5.2" height="5.2" fill="#fa2414"/>
<rect x="404.6" y="419.3" width="5.2" height="5.2" fill="#fa2414"/>
<rect x="410.2" y="414.2" width="5.2" height="5.2" fill="#fa2414"/>
<rect x="410.2" y="418.8" width="5.2" height="5.2" fill="#fa2414"/>
<rect x="371.0" y="428.4" width="5.2" height="5.2" fill="#fa2414"/>
<rect x="371.0" y="439.1" width="5.2" height="5.2" fill="#fa2414"/>
<rect x="371.0" y="444.8" width="5.2" height="5.2" fill="#fa2414"/>
<rect x="371.0" y="449.6" width="5.2" height="5.2" fill="#fa2414"/>
<rect x="371.0" y="460.8" width="5.2" height="5.2" fill="#fa2414"/>
<rect x="376.6" y="429.0" width="5.2" height="5.2" fill="#fa2414"/>
<rect x="376.6" y="445.5" width="5.2" height="5.2" fill="#fa2414"/>
<rect x="376.6" y="455.9" width="5.2" height="5.2" fill="#fa2414"/>
<rect x="382.2" y="431.7" width="5.2" height="5.2" fill="#fa2414"/>
<rect x="382.2" y="436.6" width="5.2" height="5.2" fill="#fa2414"/>
<rect x="382.2" y="445.5" width="5.2" height="5.2" fill="#fa2414"/>
<rect x="382.2" y="456.8" width="5.2" height="5.2" fill="#fa2414"/>
<rect x="382.2" y="461.5" width="5.2" height="5.2" fill="#fa2414"/>
<rect x="387.8" y="434.6" width="5.2" height="5.2" fill="#fa2414"/>
<rect x="387.8" y="449.2" width="5.2" height="5.2" fill="#fa2414"/>
<rect x="387.8" y="454.9" width="5.2" height="5.2" fill="#fa2414"/>
<rect x="387.8" y="459.8" width="5.2" height="5.2" fill="#fa2414"/>
<rect x="393.4" y="435.4" width="5.2" height="5.2" fill="#fa2414"/>
<rect x="393.4" y="460.2" width="5.2" height="5.2" fill="#fa2414"/>
<rect x="399.0" y="430.1" width="5.2" height="5.2" fill="#fa2414"/>
<rect x="399.0" y="437.5" width="5.2" height="5.2" fill="#fa2414"/>
<rect x="399.0" y="442.2" width="5.2" height="5.2" fill="#fa2414"/>
<rect x="404.6" y="430.0" width="5.2" height="5.2" fill="#fa2414"/>
<rect x="404.6" y="434.9" width="5.2" height="5.2" fill="#fa2414"/>
<rect x="404.6" y="448.7" width="5.2" height="5.2" fill="#fa2414"/>
<rect x="404.6" y="456.0" width="5.2" height="5.2" fill="#fa2414"/>
<rect x="404.6" y="461.1" width="5.2" height="5.2" fill="#fa2414"/>
<rect x="410.2" y="430.9" width="5.2" height="5.2" fill="#fa2414"/>
<rect x="410.2" y="450.8" width="5.2" height="5.2" fill="#fa2414"/>
<rect x="410.2" y="456.5" width="5.2" height="5.2" fill="#fa2414"/>
<rect x="410.2" y="462.0" width="5.2" height="5.2" fill="#fa2414"/>
<rect x="415.8" y="431.4" width="5.2" height="5.2" fill="#fa2414"/>
<rect x="415.8" y="439.9" width="5.2" height="5.2" fill="#fa2414"/>
<rect x="415.8" y="445.1" width="5.2" height="5.2" fill="#fa2414"/>
<rect x="415.8" y="450.7" width="5.2" height="5.2" fill="#fa2414"/>
<rect x="415.8" y="456.4" width="5.2" height="5.2" fill="#fa2414"/>
<rect x="421.4" y="436.3" width="5.2" height="5.2" fill="#fa2414"/>
<rect x="421.4" y="444.7" width="5.2" height="5.2" fill="#fa2414"/>
<rect x="421.4" y="450.4" width="5.2" height="5.2" fill="#fa2414"/>
<rect x="421.4" y="455.3" width="5.2" height="5.2" fill="#fa2414"/>
<polygon points="521.2,183.5 523.9,188.5 518.4,188.5" fill="#1d6213"/>
<polygon points="521.2,189.6 523.9,194.6 518.4,194.6" fill="#1d6213"/>
<polygon points="521.2,199.7 523.9,204.7 518.4,204.7" fill="#1d6213"/>
<polygon points="521.2,205.7 523.9,210.7 518.4,210.7" fill="#1d6213"/>
<polygon points="526.5,185.7 529.2,190.7 523.8,190.7" fill="#1d6213"/>
<polygon points="526.5,192.3 529.2,197.3 523.8,197.3" fill="#1d6213"/>
<polygon points="526.5,198.0 529.2,203.0 523.8,203.0" fill="#1d6213"/>
<polygon points="526.5,204.7 529.2,209.7 523.8,209.7" fill="#1d6213"/>
<polygon points="531.8,181.5 534.6,186.5 529.1,186.5" fill="#1d6213"/>
<polygon points="531.8,188.1 534.6,193.1 529.1,193.1" fill="#1d6213"/>
<polygon points="531.8,193.9 534.6,198.9 529.1,198.9" fill="#1d6213"/>
<polygon points="531.8,199.9 534.6,204.9 529.1,204.9" fill="#1d6213"/>
<polygon points="531.8,205.7 534.6,210.7 529.1,210.7" fill="#1d6213"/>
<polygon points="537.2,189.6 539.9,194.6 534.4,194.6" fill="#1d6213"/>
<polygon points="537.2,200.1 539.9,205.1 534.4,205.1" fill="#1d6213"/>
<polygon points="537.2,205.9 539.9,210.9 534.4,210.9" fill="#1d6213"/>
<polygon points="542.5,181.2 545.2,186.2 539.7,186.2" fill="#1d6213"/>
<polygon points="542.5,186.8 545.2,191.8 539.7,191.8" fill="#1d6213"/>
<polygon points="542.5,193.4 545.2,198.4 539.7,198.4" fill="#1d6213"/>
<polygon points="542.5,199.6 545.2,204.6 539.7,204.6" fill="#1d6213"/>
<polygon points="542.5,205.7 545.2,210.7 539.7,210.7" fill="#1d6213"/>
<polygon points="547.8,185.7 550.6,190.7 545.1,190.7" fill="#1d6213"/>
<polygon points="547.8,195.3 550.6,200.3 545.1,200.3" fill="#1d6213"/>
<polygon points="547.8,205.5 550.6,210.5 545.1,210.5" fill="#1d6213"/>
<polygon points="553.1,182.8 555.9,187.8 550.4,187.8" fill="#1d6213"/>
<polygon points="553.1,188.9 555.9,193.9 550.4,193.9" fill="#1d6213"/>
<polygon points="553.1,195.3 555.9,200.3 550.4,200.3" fill="#1d6213"/>
<polygon points="553.1,205.0 555.9,210.0 550.4,210.0" fill="#1d6213"/>
<polygon points="558.5,181.9 561.2,186.9 555.7,186.9" fill="#1d6213"/>
<polygon points="558.5,188.3 561.2,193.3 555.7,193.3" fill="#1d6213"/>
<polygon points="558.5,197.7 561.2,202.7 555.7,202.7" fill="#1d6213"/>
<polygon points="558.5,204.2 561.2,209.2 555.7,209.2" fill="#1d6213"/>
<polygon points="563.8,183.8 566.6,188.8 561.1,188.8" fill="#1d6213"/>
<polygon points="563.8,190.0 566.6,195.0 561.1,195.0" fill="#1d6213"/>
<polygon points="563.8,200.0 566.6,205.0 561.1,205.0" fill="#1d6213"/>
<polygon points="569.1,182.3 571.9,187.3 566.4,187.3" fill="#1d6213"/>
<polygon points="569.1,188.5 571.9,193.5 566.4,193.5" fill="#1d6213"/>
<polygon points="569.1,195.1 571.9,200.1 566.4,200.1" fill="#1d6213"/>
<polygon points="569.1,204.3 571.9,209.3 566.4,209.3" fill="#1d6213"/>
<polygon points="574.5,183.1 577.2,188.1 571.7,188.1" fill="#1d6213"/>
<polygon points="574.5,189.8 577.2,194.8 571.7,194.8" fill="#1d6213"/>
<polygon points="574.5,195.5 577.2,200.5 571.7,200.5" fill="#1d6213"/>
<polygon points="574.5,201.6 577.2,206.6 571.7,206.6" fill="#1d6213"/>
<polygon points="579.8,181.9 582.5,186.9 577.0,186.9" fill="#1d6213"/>
<polygon points="579.8,187.9 582.5,192.9 577.0,192.9" fill="#1d6213"/>
<polygon points="579.8,197.7 582.5,202.7 577.0,202.7" fill="#1d6213"/>
<polygon points="585.1,181.2 587.9,186.2 582.4,186.2" fill="#1d6213"/>
<polygon points="585.1,191.3 587.9,196.3 582.4,196.3" fill="#1d6213"/>
<polygon points="585.1,197.6 587.9,202.6 582.4,202.6" fill="#1d6213"/>
<polygon points="585.1,204.3 587.9,209.3 582.4,209.3" fill="#1d6213"/>
<polygon points="590.5,186.6 593.2,191.6 587.7,191.6" fill="#1d6213"/>
<polygon points="590.5,192.9 593.2,197.9 587.7,197.9" fill="#1d6213"/>
<polygon points="590.5,199.5 593.2,204.5 587.7,204.5" fill="#1d6213"/>
<polygon points="595.8,181.4 598.5,186.4 593.0,186.4" fill="#1d6213"/>
<polygon points="595.8,187.3 598.5,192.3 593.0,192.3" fill="#1d6213"/>
<polygon points="595.8,193.1 598.5,198.1 593.0,198.1" fill="#1d6213"/>
<polygon points="595.8,199.6 598.5,204.6 593.0,204.6" fill="#1d6213"/>
<polygon points="595.8,205.5 598.5,210.5 593.0,210.5" fill="#1d6213"/>
<polygon points="601.1,181.9 603.9,186.9 598.4,186.9" fill="#1d6213"/>
<polygon points="601.1,188.3 603.9,193.3 598.4,193.3" fill="#1d6213"/>
<polygon points="606.4,180.6 609.2,185.6 603.7,185.6" fill="#1d6213"/>
<polygon points="606.4,187.3 609.2,192.3 603.7,192.3" fill="#1d6213"/>
<polygon points="606.4,193.2 609.2,198.2 603.7,198.2" fill="#1d6213"/>
<polygon points="606.4,199.0 609.2,204.0 603.7,204.0" fill="#1d6213"/>
<polygon points="606.4,205.5 609.2,210.5 603.7,210.5" fill="#1d6213"/>
<polygon points="611.8,200.5 614.5,205.5 609.0,205.5" fill="#1d6213"/>
<polygon points="617.1,183.0 619.9,188.0 614.4,188.0" fill="#1d6213"/>
<polygon points="617.1,189.7 619.9,194.7 614.4,194.7" fill="#1d6213"/>
<polygon points="617.1,195.6 619.9,200.6 614.4,200.6" fill="#1d6213"/>
<polygon points="617.1,201.3 619.9,206.3 614.4,206.3" fill="#1d6213"/>
<polygon points="622.4,182.1 625.2,187.1 619.7,187.1" fill="#1d6213"/>
<polygon points="622.4,188.3 625.2,193.3 619.7,193.3" fill="#1d6213"/>
<polygon points="622.4,200.7 625.2,205.7 619.7,205.7" fill="#1d6213"/>
<polygon points="627.8,183.3 630.5,188.3 625.0,188.3" fill="#1d6213"/>
<polygon points="627.8,192.3 630.5,197.3 625.0,197.3" fill="#1d6213"/>
<polygon points="627.8,198.7 630.5,203.7 625.0,203.7" fill="#1d6213"/>
<polygon points="627.8,205.0 630.5,210.0 625.0,210.0" fill="#1d6213"/>
<polygon points="633.1,185.0 635.8,190.0 630.3,190.0" fill="#1d6213"/>
<polygon points="633.1,191.7 635.8,196.7 630.3,196.7" fill="#1d6213"/>
<polygon points="633.1,198.2 635.8,203.2 630.3,203.2" fill="#1d6213"/>
<polygon points="638.4,182.1 641.2,187.1 635.7,187.1" fill="#1d6213"/>
<polygon points="638.4,188.6 641.2,193.6 635.7,193.6" fill="#1d6213"/>
<polygon points="638.4,194.7 641.2,199.7 635.7,199.7" fill="#1d6213"/>
<polygon points="547.8,209.7 550.6,214.7 545.1,214.7" fill="#1d6213"/>
<polygon points="547.8,222.7 550.6,227.7 545.1,227.7" fill="#1d6213"/>
<polygon points="547.8,228.6 550.6,233.6 545.1,233.6" fill="#1d6213"/>
<polygon points="553.1,210.6 555.9,215.6 550.4,215.6" fill="#1d6213"/>
<polygon points="553.1,220.6 555.9,225.6 550.4,225.6" fill="#1d6213"/>
<polygon points="553.1,226.5 555.9,231.5 550.4,231.5" fill="#1d6213"/>
<polygon points="558.5,225.8 561.2,230.8 555.7,230.8" fill="#1d6213"/>
<polygon points="563.8,215.0 566.6,220.0 561.1,220.0" fill="#1d6213"/>
<polygon points="569.1,209.9 571.9,214.9 566.4,214.9" fill="#1d6213"/>
<polygon points="569.1,215.9 571.9,220.9 566.4,220.9" fill="#1d6213"/>
<polygon points="569.1,221.8 571.9,226.8 566.4,226.8" fill="#1d6213"/>
<polygon points="574.5,209.9 577.2,214.9 571.7,214.9" fill="#1d6213"/>
<polygon points="574.5,222.5 577.2,227.5 571.7,227.5" fill="#1d6213"/>
<polygon points="574.5,228.5 577.2,233.5 571.7,233.5" fill="#1d6213"/>
<polygon points="579.8,211.3 582.5,216.3 577.0,216.3" fill="#1d6213"/>
<polygon points="579.8,217.4 582.5,222.4 577.0,222.4" fill="#1d6213"/>
<polygon points="579.8,223.8 582.5,228.8 577.0,228.8" fill="#1d6213"/>
<polygon points="585.1,208.1 587.9,213.1 582.4,213.1" fill="#1d6213"/>
<polygon points="585.1,214.5 587.9,219.5 582.4,219.5" fill="#1d6213"/>
<polygon points="585.1,221.2 587.9,226.2 582.4,226.2" fill="#1d6213"/>
<polygon points="585.1,227.9 587.9,232.9 582.4,232.9" fill="#1d6213"/>
<polygon points="590.5,210.4 593.2,215.4 587.7,215.4" fill="#1d6213"/>
<polygon points="590.5,216.9 593.2,221.9 587.7,221.9" fill="#1d6213"/>
<polygon points="595.8,211.9 598.5,216.9 593.0,216.9" fill="#1d6213"/>
<polygon points="595.8,218.7 598.5,223.7 593.0,223.7" fill="#1d6213"/>
<polygon points="595.8,228.2 598.5,233.2 593.0,233.2" fill="#1d6213"/>
<polygon points="601.1,210.7 603.9,215.7 598.4,215.7" fill="#1d6213"/>
<polygon points="601.1,223.1 603.9,228.1 598.4,228.1" fill="#1d6213"/>
<polygon points="601.1,229.1 603.9,234.1 598.4,234.1" fill="#1d6213"/>
<polygon points="606.4,210.3 609.2,215.3 603.7,215.3" fill="#1d6213"/>
<polygon points="606.4,216.8 609.2,221.8 603.7,221.8" fill="#1d6213"/>
<polygon points="606.4,226.5 609.2,231.5 603.7,231.5" fill="#1d6213"/>
<polygon points="611.8,214.7 614.5,219.7 609.0,219.7" fill="#1d6213"/>
<polygon points="558.5,236.5 561.2,241.5 555.7,241.5" fill="#1d6213"/>
<polygon points="563.8,239.1 566.6,244.1 561.1,244.1" fill="#1d6213"/>
<polygon points="569.1,231.4 571.9,236.4 566.4,236.4" fill="#1d6213"/>
<polygon points="574.5,237.9 577.2,242.9 571.7,242.9" fill="#1d6213"/>
<polygon points="579.8,237.1 582.5,242.1 577.0,242.1" fill="#1d6213"/>
<polygon points="585.1,239.3 587.9,244.3 582.4,244.3" fill="#1d6213"/>
<polygon points="590.5,232.8 593.2,237.8 587.7,237.8" fill="#1d6213"/>
<polygon points="590.5,238.6 593.2,243.6 587.7,243.6" fill="#1d6213"/>
<polygon points="595.8,233.2 598.5,238.2 593.0,238.2" fill="#1d6213"/>
<polygon points="601.1,231.3 603.9,236.3 598.4,236.3" fill="#1d6213"/>
<polygon points="601.1,241.4 603.9,246.4 598.4,246.4" fill="#1d6213"/>
<polygon points="569.1,244.1 571.9,249.1 566.4,249.1" fill="#1d6213"/>
<polygon points="569.1,253.2 571.9,258.2 566.4,258.2" fill="#1d6213"/>
<polygon points="574.5,245.2 577.2,250.2 571.7,250.2" fill="#1d6213"/>
<polygon points="574.5,254.1 577.2,259.1 571.7,259.1" fill="#1d6213"/>
<polygon points="579.8,246.1 582.5,251.1 577.0,251.1" fill="#1d6213"/>
<polygon points="579.8,252.5 582.5,257.5 577.0,257.5" fill="#1d6213"/>
<polygon points="585.1,243.6 587.9,248.6 582.4,248.6" fill="#1d6213"/>
<polygon points="585.1,253.7 587.9,258.7 582.4,258.7" fill="#1d6213"/>
<polygon points="590.5,246.1 593.2,251.1 587.7,251.1" fill="#1d6213"/>
<polygon points="563.8,263.2 566.6,268.2 561.1,268.2" fill="#1d6213"/>
<polygon points="563.8,268.9 566.6,273.9 561.1,273.9" fill="#1d6213"/>
<polygon points="563.8,274.7 566.6,279.7 561.1,279.7" fill="#1d6213"/>
<polygon points="569.1,262.0 571.9,267.0 566.4,267.0" fill="#1d6213"/>
<polygon points="569.1,278.0 571.9,283.0 566.4,283.0" fill="#1d6213"/>
<polygon points="569.1,284.2 571.9,289.2 566.4,289.2" fill="#1d6213"/>
<polygon points="574.5,263.3 577.2,268.3 571.7,268.3" fill="#1d6213"/>
<polygon points="574.5,269.0 577.2,274.0 571.7,274.0" fill="#1d6213"/>
<polygon points="579.8,260.2 582.5,265.2 577.0,265.2" fill="#1d6213"/>
<polygon points="579.8,270.3 582.5,275.3 577.0,275.3" fill="#1d6213"/>
<polygon points="579.8,279.5 582.5,284.5 577.0,284.5" fill="#1d6213"/>
<polygon points="579.8,285.5 582.5,290.5 577.0,290.5" fill="#1d6213"/>
<polygon points="585.1,260.6 587.9,265.6 582.4,265.6" fill="#1d6213"/>
<polygon points="585.1,272.2 587.9,277.2 582.4,277.2" fill="#1d6213"/>
<polygon points="585.1,278.9 587.9,283.9 582.4,283.9" fill="#1d6213"/>
<polygon points="590.5,260.5 593.2,265.5 587.7,265.5" fill="#1d6213"/>
<polygon points="590.5,273.3 593.2,278.3 587.7,278.3" fill="#1d6213"/>
<polygon points="590.5,283.5 593.2,288.5 587.7,288.5" fill="#1d6213"/>
<polygon points="595.8,263.7 598.5,268.7 593.0,268.7" fill="#1d6213"/>
<polygon points="595.8,270.3 598.5,275.3 593.0,275.3" fill="#1d6213"/>
<polygon points="595.8,276.4 598.5,281.4 593.0,281.4" fill="#1d6213"/>
<polygon points="595.8,285.5 598.5,290.5 593.0,290.5" fill="#1d6213"/>
<polygon points="601.1,270.5 603.9,275.5 598.4,275.5" fill="#1d6213"/>
<polygon points="601.1,276.6 603.9,281.6 598.4,281.6" fill="#1d6213"/>
<polygon points="601.1,282.6 603.9,287.6 598.4,287.6" fill="#1d6213"/>
<polygon points="553.1,298.6 555.9,303.6 550.4,303.6" fill="#1d6213"/>
<polygon points="558.5,297.9 561.2,302.9 555.7,302.9" fill="#1d6213"/>
<polygon points="558.5,304.7 561.2,309.7 555.7,309.7" fill="#1d6213"/>
<polygon points="563.8,296.6 566.6,301.6 561.1,301.6" fill="#1d6213"/>
<polygon points="569.1,296.1 571.9,301.1 566.4,301.1" fill="#1d6213"/>
<polygon points="569.1,302.8 571.9,307.8 566.4,307.8" fill="#1d6213"/>
<polygon points="574.5,296.0 577.2,301.0 571.7,301.0" fill="#1d6213"/>
<polygon points="579.8,295.8 582.5,300.8 577.0,300.8" fill="#1d6213"/>
<polygon points="579.8,302.1 582.5,307.1 577.0,307.1" fill="#1d6213"/>
<polygon points="585.1,303.3 587.9,308.3 582.4,308.3" fill="#1d6213"/>
<polygon points="590.5,298.0 593.2,303.0 587.7,303.0" fill="#1d6213"/>
<polygon points="590.5,304.4 593.2,309.4 587.7,309.4" fill="#1d6213"/>
<polygon points="595.8,300.5 598.5,305.5 593.0,305.5" fill="#1d6213"/>
<polygon points="601.1,298.6 603.9,303.6 598.4,303.6" fill="#1d6213"/>
<polygon points="601.1,305.2 603.9,310.2 598.4,310.2" fill="#1d6213"/>
<polygon points="574.5,310.3 577.2,315.3 571.7,315.3" fill="#1d6213"/>
<polygon points="574.5,316.1 577.2,321.1 571.7,321.1" fill="#1d6213"/>
<polygon points="574.5,322.4 577.2,327.4 571.7,327.4" fill="#1d6213"/>
<polygon points="585.1,323.2 587.9,328.2 582.4,328.2" fill="#1d6213"/>
<polygon points="563.8,330.2 566.6,335.2 561.1,335.2" fill="#1d6213"/>
<polygon points="563.8,336.6 566.6,341.6 561.1,341.6" fill="#1d6213"/>
<polygon points="569.1,338.5 571.9,343.5 566.4,343.5" fill="#1d6213"/>
<polygon points="574.5,328.2 577.2,333.2 571.7,333.2" fill="#1d6213"/>
<polygon points="574.5,334.1 577.2,339.1 571.7,339.1" fill="#1d6213"/>
<polygon points="574.5,340.2 577.2,345.2 571.7,345.2" fill="#1d6213"/>
<polygon points="579.8,329.4 582.5,334.4 577.0,334.4" fill="#1d6213"/>
<polygon points="585.1,327.8 587.9,332.8 582.4,332.8" fill="#1d6213"/>
<polygon points="585.1,334.4 587.9,339.4 582.4,339.4" fill="#1d6213"/>
<polygon points="590.5,327.6 593.2,332.6 587.7,332.6" fill="#1d6213"/>
<polygon points="590.5,333.6 593.2,338.6 587.7,338.6" fill="#1d6213"/>
<polygon points="595.8,332.1 598.5,337.1 593.0,337.1" fill="#1d6213"/>
<polygon points="574.5,355.7 577.2,360.7 571.7,360.7" fill="#1d6213"/>
<polygon points="579.8,352.5 582.5,357.5 577.0,357.5" fill="#1d6213"/>
<polygon points="579.8,358.1 582.5,363.1 577.0,363.1" fill="#1d6213"/>
<polygon points="569.1,367.0 571.9,372.0 566.4,372.0" fill="#1d6213"/>
<polygon points="569.1,373.3 571.9,378.3 566.4,378.3" fill="#1d6213"/>
<polygon points="574.5,364.9 577.2,369.9 571.7,369.9" fill="#1d6213"/>
<polygon points="579.8,365.7 582.5,370.7 577.0,370.7" fill="#1d6213"/>
<polygon points="579.8,372.5 582.5,377.5 577.0,377.5" fill="#1d6213"/>
<polygon points="585.1,366.2 587.9,371.2 582.4,371.2" fill="#1d6213"/>
<polygon points="590.5,364.9 593.2,369.9 587.7,369.9" fill="#1d6213"/>
<polygon points="590.5,371.1 593.2,376.1 587.7,376.1" fill="#1d6213"/>
<polygon points="574.5,376.4 577.2,381.4 571.7,381.4" fill="#1d6213"/>
<polygon points="574.5,382.5 577.2,387.5 571.7,387.5" fill="#1d6213"/>
<polygon points="574.5,388.4 577.2,393.4 571.7,393.4" fill="#1d6213"/>
<polygon points="574.5,401.8 577.2,406.8 571.7,406.8" fill="#1d6213"/>
<polygon points="579.8,384.3 582.5,389.3 577.0,389.3" fill="#1d6213"/>
<polygon points="579.8,396.2 582.5,401.2 577.0,401.2" fill="#1d6213"/>
<polygon points="579.8,402.8 582.5,407.8 577.0,407.8" fill="#1d6213"/>
<polygon points="585.1,377.7 587.9,382.7 582.4,382.7" fill="#1d6213"/>
<polygon points="585.1,384.4 587.9,389.4 582.4,389.4" fill="#1d6213"/>
<polygon points="585.1,391.0 587.9,396.0 582.4,396.0" fill="#1d6213"/>
<polygon points="585.1,400.0 587.9,405.0 582.4,405.0" fill="#1d6213"/>
<polygon points="585.1,406.0 587.9,411.0 582.4,411.0" fill="#1d6213"/>
<polygon points="569.1,421.4 571.9,426.4 566.4,426.4" fill="#1d6213"/>
<polygon points="569.1,431.1 571.9,436.1 566.4,436.1" fill="#1d6213"/>
<polygon points="569.1,459.5 571.9,464.5 566.4,464.5" fill="#1d6213"/>
<polygon points="574.5,445.4 577.2,450.4 571.7,450.4" fill="#1d6213"/>
<polygon points="574.5,451.6 577.2,456.6 571.7,456.6" fill="#1d6213"/>
<polygon points="579.8,425.7 582.5,430.7 577.0,430.7" fill="#1d6213"/>
<polygon points="579.8,435.0 582.5,440.0 577.0,440.0" fill="#1d6213"/>
<polygon points="579.8,441.7 582.5,446.7 577.0,446.7" fill="#1d6213"/>
<polygon points="579.8,452.2 582.5,457.2 577.0,457.2" fill="#1d6213"/>
<polygon points="585.1,439.0 587.9,444.0 582.4,444.0" fill="#1d6213"/>
<polygon points="585.1,445.3 587.9,450.3 582.4,450.3" fill="#1d6213"/>
<polygon points="585.1,455.5 587.9,460.5 582.4,460.5" fill="#1d6213"/>
<polygon points="590.5,437.1 593.2,442.1 587.7,442.1" fill="#1d6213"/>
<polygon points="590.5,446.4 593.2,451.4 587.7,451.4" fill="#1d6213"/>
<polygon points="590.5,456.5 593.2,461.5 587.7,461.5" fill="#1d6213"/>
<polygon points="595.8,430.6 598.5,435.6 593.0,435.6" fill="#1d6213"/>
<polygon points="595.8,440.0 598.5,445.0 593.0,445.0" fill="#1d6213"/>
<polygon points="595.8,449.3 598.5,454.3 593.0,454.3" fill="#1d6213"/>
<line x1="88.8" y1="155.2" x2="88.8" y2="466.4" stroke="#000" stroke-width="4.1"/>
<line x1="86.8" y1="464.4" x2="704.6" y2="464.4" stroke="#000" stroke-width="4.1"/>
<line x1="77.4" y1="464.4" x2="88.8" y2="464.4" stroke="#000" stroke-width="3.4"/>
<text x="74.3" y="471.5" font-family='"Liberation Sans", Arial, sans-serif' font-size="19.8" font-weight="bold" text-anchor="end" fill="#000">0.0</text>
<line x1="77.4" y1="408.6" x2="88.8" y2="408.6" stroke="#000" stroke-width="3.4"/>
<text x="74.3" y="415.7" font-family='"Liberation Sans", Arial, sans-serif' font-size="19.8" font-weight="bold" text-anchor="end" fill="#000">0.2</text>
<line x1="77.4" y1="352.8" x2="88.8" y2="352.8" stroke="#000" stroke-width="3.4"/>
<text x="74.3" y="359.9" font-family='"Liberation Sans", Arial, sans-serif' font-size="19.8" font-weight="bold" text-anchor="end" fill="#000">0.4</text>
<line x1="77.4" y1="296.9" x2="88.8" y2="296.9" stroke="#000" stroke-width="3.4"/>
<text x="74.3" y="304.0" font-family='"Liberation Sans", Arial, sans-serif' font-size="19.8" font-weight="bold" text-anchor="end" fill="#000">0.6</text>
<line x1="77.4" y1="241.1" x2="88.8" y2="241.1" stroke="#000" stroke-width="3.4"/>
<text x="74.3" y="248.2" font-family='"Liberation Sans", Arial, sans-serif' font-size="19.8" font-weight="bold" text-anchor="end" fill="#000">0.8</text>
<line x1="77.4" y1="185.3" x2="88.8" y2="185.3" stroke="#000" stroke-width="3.4"/>
<text x="74.3" y="192.4" font-family='"Liberation Sans", Arial, sans-serif' font-size="19.8" font-weight="bold" text-anchor="end" fill="#000">1.0</text>
<line x1="210.8" y1="464.4" x2="210.8" y2="476.4" stroke="#000" stroke-width="3.8"/>
<text x="204.0" y="507.5" font-family='"Liberation Sans", Arial, sans-serif' font-size="25.5" font-weight="normal" text-anchor="middle" fill="#000">HC</text>
<line x1="396.0" y1="464.4" x2="396.0" y2="476.4" stroke="#000" stroke-width="3.8"/>
<text x="396.0" y="507.5" font-family='"Liberation Sans", Arial, sans-serif' font-size="25.5" font-weight="normal" text-anchor="middle" fill="#000">LC</text>
<line x1="580.0" y1="464.4" x2="580.0" y2="476.4" stroke="#000" stroke-width="3.8"/>
<text x="587.5" y="507.5" font-family='"Liberation Sans", Arial, sans-serif' font-size="25.5" font-weight="normal" text-anchor="middle" fill="#000">GC</text>
<text x="30.8" y="311.2" font-family='"Liberation Sans", Arial, sans-serif' font-size="32" font-weight="bold" text-anchor="middle" fill="#000" transform="rotate(-90 30.8 311.2)">Predicted Probability</text>
<line x1="90.6" y1="371.7" x2="676" y2="371.7" stroke="#000" stroke-width="4" stroke-linecap="round" stroke-dasharray="0 11.67"/>
<line x1="659.4" y1="414.3" x2="622.5" y2="378.3" stroke="#000" stroke-width="3.2" stroke-dasharray="9 3"/>
<polygon points="622.5,378.3 635.9,383.2 627.8,391.5" fill="#000"/>
<text x="621.0" y="439.3" font-family='"Liberation Serif", "Times New Roman", serif' font-size="36" font-weight="normal" text-anchor="start" fill="#000">y=0.33</text>
<text x="313.0" y="622.0" font-family='"Liberation Serif", "Times New Roman", serif' font-size="35.5" font-weight="normal" text-anchor="start" fill="#000">HD CNN</text>
<text x="391.0" y="675.5" font-family='"Liberation Sans", Arial, sans-serif' font-size="32.2" font-weight="bold" text-anchor="middle" fill="#000">Validation dataset  (5-fold)</text>
<circle cx="148.0" cy="742.4" r="2.65" fill="#1a14f2"/>
<circle cx="150.5" cy="743.6" r="2.65" fill="#1a14f2"/>
<circle cx="153.0" cy="741.4" r="2.65" fill="#1a14f2"/>
<circle cx="155.5" cy="742.4" r="2.65" fill="#1a14f2"/>
<circle cx="158.0" cy="744.1" r="2.65" fill="#1a14f2"/>
<circle cx="160.6" cy="743.3" r="2.65" fill="#1a14f2"/>
<circle cx="163.1" cy="743.5" r="2.65" fill="#1a14f2"/>
<circle cx="165.6" cy="742.0" r="2.65" fill="#1a14f2"/>
<circle cx="168.1" cy="743.0" r="2.65" fill="#1a14f2"/>
<circle cx="170.6" cy="743.2" r="2.65" fill="#1a14f2"/>
<circle cx="173.1" cy="742.3" r="2.65" fill="#1a14f2"/>
<circle cx="175.6" cy="743.5" r="2.65" fill="#1a14f2"/>
<circle cx="178.1" cy="743.1" r="2.65" fill="#1a14f2"/>
<circle cx="180.6" cy="744.6" r="2.65" fill="#1a14f2"/>
<circle cx="183.1" cy="743.2" r="2.65" fill="#1a14f2"/>
<circle cx="185.7" cy="742.7" r="2.65" fill="#1a14f2"/>
<circle cx="188.2" cy="741.8" r="2.65" fill="#1a14f2"/>
<circle cx="190.7" cy="741.9" r="2.65" fill="#1a14f2"/>
<circle cx="193.2" cy="743.8" r="2.65" fill="#1a14f2"/>
<circle cx="195.7" cy="741.7" r="2.65" fill="#1a14f2"/>
<circle cx="198.2" cy="741.7" r="2.65" fill="#1a14f2"/>
<circle cx="200.7" cy="741.9" r="2.65" fill="#1a14f2"/>
<circle cx="203.2" cy="743.1" r="2.65" fill="#1a14f2"/>
<circle cx="205.7" cy="744.0" r="2.65" fill="#1a14f2"/>
<circle cx="208.3" cy="743.4" r="2.65" fill="#1a14f2"/>
<circle cx="210.8" cy="744.0" r="2.65" fill="#1a14f2"/>
<circle cx="213.3" cy="741.6" r="2.65" fill="#1a14f2"/>
<circle cx="215.8" cy="741.4" r="2.65" fill="#1a14f2"/>
<circle cx="218.3" cy="743.9" r="2.65" fill="#1a14f2"/>
<circle cx="220.8" cy="742.4" r="2.65" fill="#1a14f2"/>
<circle cx="223.3" cy="743.7" r="2.65" fill="#1a14f2"/>
<circle cx="225.8" cy="742.5" r="2.65" fill="#1a14f2"/>
<circle cx="228.3" cy="741.9" r="2.65" fill="#1a14f2"/>
<circle cx="230.9" cy="742.3" r="2.65" fill="#1a14f2"/>
<circle cx="233.4" cy="741.7" r="2.65" fill="#1a14f2"/>
<circle cx="235.9" cy="744.3" r="2.65" fill="#1a14f2"/>
<circle cx="238.4" cy="743.3" r="2.65" fill="#1a14f2"/>
<circle cx="240.9" cy="742.5" r="2.65" fill="#1a14f2"/>
<circle cx="243.4" cy="742.8" r="2.65" fill="#1a14f2"/>
<circle cx="245.9" cy="742.6" r="2.65" fill="#1a14f2"/>
<circle cx="248.4" cy="741.6" r="2.65" fill="#1a14f2"/>
<circle cx="250.9" cy="744.2" r="2.65" fill="#1a14f2"/>
<circle cx="253.4" cy="743.3" r="2.65" fill="#1a14f2"/>
<circle cx="256.0" cy="744.5" r="2.65" fill="#1a14f2"/>
<circle cx="258.5" cy="742.8" r="2.65" fill="#1a14f2"/>
<circle cx="261.0" cy="743.4" r="2.65" fill="#1a14f2"/>
<circle cx="263.5" cy="742.2" r="2.65" fill="#1a14f2"/>
<circle cx="266.0" cy="741.5" r="2.65" fill="#1a14f2"/>
<circle cx="197.1" cy="744.7" r="2.65" fill="#1a14f2"/>
<circle cx="197.1" cy="748.2" r="2.65" fill="#1a14f2"/>
<circle cx="200.3" cy="743.5" r="2.65" fill="#1a14f2"/>
<circle cx="200.3" cy="748.1" r="2.65" fill="#1a14f2"/>
<circle cx="203.5" cy="743.4" r="2.65" fill="#1a14f2"/>
<circle cx="203.5" cy="747.6" r="2.65" fill="#1a14f2"/>
<circle cx="203.5" cy="751.1" r="2.65" fill="#1a14f2"/>
<circle cx="206.7" cy="744.4" r="2.65" fill="#1a14f2"/>
<circle cx="206.7" cy="747.7" r="2.65" fill="#1a14f2"/>
<circle cx="209.9" cy="744.0" r="2.65" fill="#1a14f2"/>
<circle cx="209.9" cy="747.9" r="2.65" fill="#1a14f2"/>
<circle cx="209.9" cy="751.5" r="2.65" fill="#1a14f2"/>
<circle cx="213.1" cy="744.5" r="2.65" fill="#1a14f2"/>
<circle cx="213.1" cy="747.9" r="2.65" fill="#1a14f2"/>
<circle cx="213.1" cy="751.3" r="2.65" fill="#1a14f2"/>
<circle cx="216.3" cy="744.2" r="2.65" fill="#1a14f2"/>
<circle cx="216.3" cy="747.4" r="2.65" fill="#1a14f2"/>
<circle cx="216.3" cy="750.6" r="2.65" fill="#1a14f2"/>
<circle cx="203.5" cy="752.2" r="2.65" fill="#1a14f2"/>
<circle cx="203.5" cy="756.6" r="2.65" fill="#1a14f2"/>
<circle cx="203.5" cy="759.8" r="2.65" fill="#1a14f2"/>
<circle cx="206.7" cy="756.8" r="2.65" fill="#1a14f2"/>
<circle cx="209.9" cy="752.2" r="2.65" fill="#1a14f2"/>
<circle cx="209.9" cy="755.7" r="2.65" fill="#1a14f2"/>
<circle cx="209.9" cy="759.6" r="2.65" fill="#1a14f2"/>
<circle cx="207.1" cy="764.6" r="2.65" fill="#1a14f2"/>
<circle cx="206.4" cy="774.0" r="2.65" fill="#1a14f2"/>
<circle cx="207.5" cy="777.6" r="2.65" fill="#1a14f2"/>
<circle cx="206.3" cy="781.2" r="2.65" fill="#1a14f2"/>
<circle cx="206.9" cy="784.8" r="2.65" fill="#1a14f2"/>
<circle cx="207.0" cy="796.5" r="2.65" fill="#1a14f2"/>
<circle cx="206.5" cy="797.0" r="2.65" fill="#1a14f2"/>
<circle cx="207.3" cy="807.9" r="2.65" fill="#1a14f2"/>
<circle cx="206.7" cy="810.4" r="2.65" fill="#1a14f2"/>
<circle cx="207.2" cy="820.1" r="2.65" fill="#1a14f2"/>
<circle cx="207.0" cy="832.2" r="2.65" fill="#1a14f2"/>
<circle cx="206.6" cy="846.8" r="2.65" fill="#1a14f2"/>
<circle cx="206.7" cy="850.5" r="2.65" fill="#1a14f2"/>
<circle cx="206.2" cy="861.4" r="2.65" fill="#1a14f2"/>
<circle cx="206.4" cy="888.2" r="2.65" fill="#1a14f2"/>
<circle cx="207.5" cy="900.3" r="2.65" fill="#1a14f2"/>
<circle cx="206.6" cy="907.6" r="2.65" fill="#1a14f2"/>
<circle cx="207.2" cy="913.7" r="2.65" fill="#1a14f2"/>
<circle cx="206.3" cy="919.8" r="2.65" fill="#1a14f2"/>
<circle cx="207.0" cy="929.5" r="2.65" fill="#1a14f2"/>
<circle cx="206.7" cy="933.1" r="2.65" fill="#1a14f2"/>
<circle cx="206.9" cy="935.6" r="2.65" fill="#1a14f2"/>
<circle cx="206.6" cy="940.4" r="2.65" fill="#1a14f2"/>
<circle cx="206.2" cy="953.8" r="2.65" fill="#1a14f2"/>
<circle cx="206.6" cy="957.4" r="2.65" fill="#1a14f2"/>
<circle cx="206.5" cy="959.9" r="2.65" fill="#1a14f2"/>
<circle cx="206.3" cy="968.4" r="2.65" fill="#1a14f2"/>
<circle cx="207.2" cy="973.2" r="2.65" fill="#1a14f2"/>
<circle cx="206.6" cy="976.9" r="2.65" fill="#1a14f2"/>
<circle cx="206.7" cy="986.6" r="2.65" fill="#1a14f2"/>
<circle cx="207.6" cy="990.3" r="2.65" fill="#1a14f2"/>
<circle cx="207.3" cy="993.9" r="2.65" fill="#1a14f2"/>
<circle cx="207.5" cy="997.6" r="2.65" fill="#1a14f2"/>
<circle cx="207.5" cy="1001.2" r="2.65" fill="#1a14f2"/>
<circle cx="206.3" cy="1006.1" r="2.65" fill="#1a14f2"/>
<circle cx="188.0" cy="1013.8" r="2.65" fill="#1a14f2"/>
<circle cx="191.2" cy="1013.1" r="2.65" fill="#1a14f2"/>
<circle cx="194.3" cy="1015.0" r="2.65" fill="#1a14f2"/>
<circle cx="197.5" cy="1015.0" r="2.65" fill="#1a14f2"/>
<circle cx="200.7" cy="1014.1" r="2.65" fill="#1a14f2"/>
<circle cx="203.8" cy="1014.2" r="2.65" fill="#1a14f2"/>
<circle cx="207.0" cy="1015.0" r="2.65" fill="#1a14f2"/>
<circle cx="210.2" cy="1015.1" r="2.65" fill="#1a14f2"/>
<circle cx="213.3" cy="1013.7" r="2.65" fill="#1a14f2"/>
<circle cx="216.5" cy="1015.5" r="2.65" fill="#1a14f2"/>
<circle cx="219.7" cy="1014.1" r="2.65" fill="#1a14f2"/>
<circle cx="222.8" cy="1014.9" r="2.65" fill="#1a14f2"/>
<circle cx="226.0" cy="1013.5" r="2.65" fill="#1a14f2"/>
<circle cx="196.0" cy="1010.2" r="2.65" fill="#1a14f2"/>
<circle cx="200.4" cy="1011.8" r="2.65" fill="#1a14f2"/>
<circle cx="204.8" cy="1011.5" r="2.65" fill="#1a14f2"/>
<circle cx="209.2" cy="1011.4" r="2.65" fill="#1a14f2"/>
<circle cx="213.6" cy="1010.1" r="2.65" fill="#1a14f2"/>
<circle cx="218.0" cy="1010.1" r="2.65" fill="#1a14f2"/>
<circle cx="206.4" cy="1008.0" r="2.65" fill="#1a14f2"/>
<circle cx="206.4" cy="1004.0" r="2.65" fill="#1a14f2"/>
<circle cx="206.6" cy="1000.0" r="2.65" fill="#1a14f2"/>
<rect x="331.4" y="742.4" width="5.2" height="5.2" fill="#fa2414"/>
<rect x="334.2" y="741.1" width="5.2" height="5.2" fill="#fa2414"/>
<rect x="337.0" y="742.1" width="5.2" height="5.2" fill="#fa2414"/>
<rect x="339.8" y="743.5" width="5.2" height="5.2" fill="#fa2414"/>
<rect x="342.6" y="741.6" width="5.2" height="5.2" fill="#fa2414"/>
<rect x="345.4" y="744.3" width="5.2" height="5.2" fill="#fa2414"/>
<rect x="348.2" y="743.2" width="5.2" height="5.2" fill="#fa2414"/>
<rect x="351.0" y="743.8" width="5.2" height="5.2" fill="#fa2414"/>
<rect x="353.8" y="741.9" width="5.2" height="5.2" fill="#fa2414"/>
<rect x="356.6" y="742.6" width="5.2" height="5.2" fill="#fa2414"/>
<rect x="359.4" y="743.6" width="5.2" height="5.2" fill="#fa2414"/>
<rect x="362.3" y="742.3" width="5.2" height="5.2" fill="#fa2414"/>
<rect x="365.1" y="740.9" width="5.2" height="5.2" fill="#fa2414"/>
<rect x="367.9" y="744.2" width="5.2" height="5.2" fill="#fa2414"/>
<rect x="370.7" y="744.0" width="5.2" height="5.2" fill="#fa2414"/>
<rect x="373.5" y="742.0" width="5.2" height="5.2" fill="#fa2414"/>
<rect x="376.3" y="741.1" width="5.2" height="5.2" fill="#fa2414"/>
<rect x="379.1" y="744.3" width="5.2" height="5.2" fill="#fa2414"/>
<rect x="381.9" y="743.3" width="5.2" height="5.2" fill="#fa2414"/>
<rect x="384.7" y="741.1" width="5.2" height="5.2" fill="#fa2414"/>
<rect x="387.5" y="741.9" width="5.2" height="5.2" fill="#fa2414"/>
<rect x="390.3" y="741.3" width="5.2" height="5.2" fill="#fa2414"/>
<rect x="393.1" y="744.1" width="5.2" height="5.2" fill="#fa2414"/>
<rect x="395.9" y="741.7" width="5.2" height="5.2" fill="#fa2414"/>
<rect x="398.7" y="744.6" width="5.2" height="5.2" fill="#fa2414"/>
<rect x="401.5" y="743.9" width="5.2" height="5.2" fill="#fa2414"/>
<rect x="404.3" y="741.2" width="5.2" height="5.2" fill="#fa2414"/>
<rect x="407.1" y="743.7" width="5.2" height="5.2" fill="#fa2414"/>
<rect x="409.9" y="742.5" width="5.2" height="5.2" fill="#fa2414"/>
<rect x="412.7" y="743.9" width="5.2" height="5.2" fill="#fa2414"/>
<rect x="415.5" y="744.2" width="5.2" height="5.2" fill="#fa2414"/>
<rect x="418.4" y="742.0" width="5.2" height="5.2" fill="#fa2414"/>
<rect x="421.2" y="741.3" width="5.2" height="5.2" fill="#fa2414"/>
<rect x="424.0" y="744.7" width="5.2" height="5.2" fill="#fa2414"/>
<rect x="426.8" y="742.6" width="5.2" height="5.2" fill="#fa2414"/>
<rect x="429.6" y="744.6" width="5.2" height="5.2" fill="#fa2414"/>
<rect x="432.4" y="743.7" width="5.2" height="5.2" fill="#fa2414"/>
<rect x="435.2" y="743.9" width="5.2" height="5.2" fill="#fa2414"/>
<rect x="438.0" y="744.2" width="5.2" height="5.2" fill="#fa2414"/>
<rect x="440.8" y="743.4" width="5.2" height="5.2" fill="#fa2414"/>
<rect x="443.6" y="742.7" width="5.2" height="5.2" fill="#fa2414"/>
<rect x="446.4" y="741.1" width="5.2" height="5.2" fill="#fa2414"/>
<rect x="357.4" y="739.0" width="5.2" height="5.2" fill="#fa2414"/>
<rect x="360.7" y="738.2" width="5.2" height="5.2" fill="#fa2414"/>
<rect x="364.1" y="738.4" width="5.2" height="5.2" fill="#fa2414"/>
<rect x="367.4" y="739.7" width="5.2" height="5.2" fill="#fa2414"/>
<rect x="370.7" y="737.3" width="5.2" height="5.2" fill="#fa2414"/>
<rect x="374.1" y="739.2" width="5.2" height="5.2" fill="#fa2414"/>
<rect x="377.4" y="737.0" width="5.2" height="5.2" fill="#fa2414"/>
<rect x="380.7" y="739.0" width="5.2" height="5.2" fill="#fa2414"/>
<rect x="384.1" y="739.3" width="5.2" height="5.2" fill="#fa2414"/>
<rect x="387.4" y="737.7" width="5.2" height="5.2" fill="#fa2414"/>
<rect x="390.7" y="738.5" width="5.2" height="5.2" fill="#fa2414"/>
<rect x="394.1" y="739.8" width="5.2" height="5.2" fill="#fa2414"/>
<rect x="397.4" y="738.8" width="5.2" height="5.2" fill="#fa2414"/>
<rect x="400.7" y="738.5" width="5.2" height="5.2" fill="#fa2414"/>
<rect x="404.1" y="737.6" width="5.2" height="5.2" fill="#fa2414"/>
<rect x="407.4" y="737.1" width="5.2" height="5.2" fill="#fa2414"/>
<rect x="410.7" y="738.0" width="5.2" height="5.2" fill="#fa2414"/>
<rect x="414.1" y="738.1" width="5.2" height="5.2" fill="#fa2414"/>
<rect x="417.4" y="737.5" width="5.2" height="5.2" fill="#fa2414"/>
<rect x="420.7" y="737.8" width="5.2" height="5.2" fill="#fa2414"/>
<rect x="424.1" y="737.3" width="5.2" height="5.2" fill="#fa2414"/>
<rect x="427.4" y="739.0" width="5.2" height="5.2" fill="#fa2414"/>
<rect x="379.7" y="739.6" width="5.2" height="5.2" fill="#fa2414"/>
<rect x="379.7" y="743.0" width="5.2" height="5.2" fill="#fa2414"/>
<rect x="379.7" y="746.7" width="5.2" height="5.2" fill="#fa2414"/>
<rect x="382.7" y="738.9" width="5.2" height="5.2" fill="#fa2414"/>
<rect x="382.7" y="742.2" width="5.2" height="5.2" fill="#fa2414"/>
<rect x="382.7" y="745.7" width="5.2" height="5.2" fill="#fa2414"/>
<rect x="385.7" y="739.8" width="5.2" height="5.2" fill="#fa2414"/>
<rect x="385.7" y="743.8" width="5.2" height="5.2" fill="#fa2414"/>
<rect x="385.7" y="747.6" width="5.2" height="5.2" fill="#fa2414"/>
<rect x="388.7" y="738.6" width="5.2" height="5.2" fill="#fa2414"/>
<rect x="388.7" y="742.2" width="5.2" height="5.2" fill="#fa2414"/>
<rect x="388.7" y="745.3" width="5.2" height="5.2" fill="#fa2414"/>
<rect x="388.7" y="748.6" width="5.2" height="5.2" fill="#fa2414"/>
<rect x="391.7" y="738.6" width="5.2" height="5.2" fill="#fa2414"/>
<rect x="391.7" y="742.4" width="5.2" height="5.2" fill="#fa2414"/>
<rect x="391.7" y="745.6" width="5.2" height="5.2" fill="#fa2414"/>
<rect x="391.7" y="748.6" width="5.2" height="5.2" fill="#fa2414"/>
<rect x="394.7" y="738.6" width="5.2" height="5.2" fill="#fa2414"/>
<rect x="394.7" y="743.1" width="5.2" height="5.2" fill="#fa2414"/>
<rect x="394.7" y="746.3" width="5.2" height="5.2" fill="#fa2414"/>
<rect x="397.7" y="738.7" width="5.2" height="5.2" fill="#fa2414"/>
<rect x="397.7" y="741.8" width="5.2" height="5.2" fill="#fa2414"/>
<rect x="397.7" y="745.8" width="5.2" height="5.2" fill="#fa2414"/>
<rect x="379.7" y="750.6" width="5.2" height="5.2" fill="#fa2414"/>
<rect x="379.7" y="754.0" width="5.2" height="5.2" fill="#fa2414"/>
<rect x="379.7" y="757.0" width="5.2" height="5.2" fill="#fa2414"/>
<rect x="379.7" y="761.4" width="5.2" height="5.2" fill="#fa2414"/>
<rect x="379.7" y="764.7" width="5.2" height="5.2" fill="#fa2414"/>
<rect x="382.7" y="751.1" width="5.2" height="5.2" fill="#fa2414"/>
<rect x="382.7" y="755.3" width="5.2" height="5.2" fill="#fa2414"/>
<rect x="382.7" y="759.5" width="5.2" height="5.2" fill="#fa2414"/>
<rect x="382.7" y="762.8" width="5.2" height="5.2" fill="#fa2414"/>
<rect x="382.7" y="766.3" width="5.2" height="5.2" fill="#fa2414"/>
<rect x="385.7" y="750.1" width="5.2" height="5.2" fill="#fa2414"/>
<rect x="385.7" y="753.4" width="5.2" height="5.2" fill="#fa2414"/>
<rect x="385.7" y="757.4" width="5.2" height="5.2" fill="#fa2414"/>
<rect x="385.7" y="761.7" width="5.2" height="5.2" fill="#fa2414"/>
<rect x="385.7" y="766.1" width="5.2" height="5.2" fill="#fa2414"/>
<rect x="388.7" y="750.3" width="5.2" height="5.2" fill="#fa2414"/>
<rect x="388.7" y="753.8" width="5.2" height="5.2" fill="#fa2414"/>
<rect x="388.7" y="756.9" width="5.2" height="5.2" fill="#fa2414"/>
<rect x="388.7" y="760.2" width="5.2" height="5.2" fill="#fa2414"/>
<rect x="388.7" y="764.7" width="5.2" height="5.2" fill="#fa2414"/>
<rect x="388.7" y="767.8" width="5.2" height="5.2" fill="#fa2414"/>
<rect x="391.7" y="750.7" width="5.2" height="5.2" fill="#fa2414"/>
<rect x="391.7" y="755.0" width="5.2" height="5.2" fill="#fa2414"/>
<rect x="391.7" y="759.3" width="5.2" height="5.2" fill="#fa2414"/>
<rect x="391.7" y="762.8" width="5.2" height="5.2" fill="#fa2414"/>
<rect x="391.7" y="766.6" width="5.2" height="5.2" fill="#fa2414"/>
<rect x="394.7" y="750.2" width="5.2" height="5.2" fill="#fa2414"/>
<rect x="394.7" y="754.5" width="5.2" height="5.2" fill="#fa2414"/>
<rect x="394.7" y="757.8" width="5.2" height="5.2" fill="#fa2414"/>
<rect x="394.7" y="761.5" width="5.2" height="5.2" fill="#fa2414"/>
<rect x="394.7" y="765.0" width="5.2" height="5.2" fill="#fa2414"/>
<rect x="394.7" y="768.2" width="5.2" height="5.2" fill="#fa2414"/>
<rect x="385.7" y="776.1" width="5.2" height="5.2" fill="#fa2414"/>
<rect x="388.7" y="768.5" width="5.2" height="5.2" fill="#fa2414"/>
<rect x="388.7" y="772.5" width="5.2" height="5.2" fill="#fa2414"/>
<rect x="388.7" y="778.7" width="5.2" height="5.2" fill="#fa2414"/>
<rect x="391.7" y="769.0" width="5.2" height="5.2" fill="#fa2414"/>
<rect x="391.7" y="772.1" width="5.2" height="5.2" fill="#fa2414"/>
<rect x="391.7" y="776.1" width="5.2" height="5.2" fill="#fa2414"/>
<rect x="391.7" y="779.3" width="5.2" height="5.2" fill="#fa2414"/>
<rect x="382.7" y="780.4" width="5.2" height="5.2" fill="#fa2414"/>
<rect x="382.7" y="784.3" width="5.2" height="5.2" fill="#fa2414"/>
<rect x="382.7" y="787.9" width="5.2" height="5.2" fill="#fa2414"/>
<rect x="382.7" y="793.6" width="5.2" height="5.2" fill="#fa2414"/>
<rect x="382.7" y="798.0" width="5.2" height="5.2" fill="#fa2414"/>
<rect x="382.7" y="801.1" width="5.2" height="5.2" fill="#fa2414"/>
<rect x="382.7" y="804.5" width="5.2" height="5.2" fill="#fa2414"/>
<rect x="385.7" y="779.8" width="5.2" height="5.2" fill="#fa2414"/>
<rect x="385.7" y="783.0" width="5.2" height="5.2" fill="#fa2414"/>
<rect x="385.7" y="786.9" width="5.2" height="5.2" fill="#fa2414"/>
<rect x="385.7" y="790.6" width="5.2" height="5.2" fill="#fa2414"/>
<rect x="385.7" y="799.4" width="5.2" height="5.2" fill="#fa2414"/>
<rect x="388.7" y="780.9" width="5.2" height="5.2" fill="#fa2414"/>
<rect x="388.7" y="789.9" width="5.2" height="5.2" fill="#fa2414"/>
<rect x="388.7" y="793.5" width="5.2" height="5.2" fill="#fa2414"/>
<rect x="388.7" y="797.4" width="5.2" height="5.2" fill="#fa2414"/>
<rect x="391.7" y="781.0" width="5.2" height="5.2" fill="#fa2414"/>
<rect x="391.7" y="793.5" width="5.2" height="5.2" fill="#fa2414"/>
<rect x="391.7" y="800.4" width="5.2" height="5.2" fill="#fa2414"/>
<rect x="391.7" y="804.3" width="5.2" height="5.2" fill="#fa2414"/>
<rect x="389.1" y="813.2" width="5.2" height="5.2" fill="#fa2414"/>
<rect x="388.2" y="821.0" width="5.2" height="5.2" fill="#fa2414"/>
<rect x="389.2" y="841.0" width="5.2" height="5.2" fill="#fa2414"/>
<rect x="388.9" y="866.9" width="5.2" height="5.2" fill="#fa2414"/>
<rect x="388.4" y="892.9" width="5.2" height="5.2" fill="#fa2414"/>
<rect x="388.3" y="899.4" width="5.2" height="5.2" fill="#fa2414"/>
<rect x="388.6" y="906.9" width="5.2" height="5.2" fill="#fa2414"/>
<rect x="389.1" y="925.0" width="5.2" height="5.2" fill="#fa2414"/>
<rect x="388.8" y="940.9" width="5.2" height="5.2" fill="#fa2414"/>
<rect x="388.2" y="953.9" width="5.2" height="5.2" fill="#fa2414"/>
<rect x="388.1" y="966.4" width="5.2" height="5.2" fill="#fa2414"/>
<rect x="388.2" y="971.4" width="5.2" height="5.2" fill="#fa2414"/>
<rect x="389.1" y="976.4" width="5.2" height="5.2" fill="#fa2414"/>
<rect x="388.3" y="984.4" width="5.2" height="5.2" fill="#fa2414"/>
<rect x="388.8" y="988.4" width="5.2" height="5.2" fill="#fa2414"/>
<rect x="388.4" y="992.4" width="5.2" height="5.2" fill="#fa2414"/>
<rect x="328.4" y="1008.8" width="5.2" height="5.2" fill="#fa2414"/>
<rect x="331.5" y="1008.1" width="5.2" height="5.2" fill="#fa2414"/>
<rect x="334.6" y="1007.5" width="5.2" height="5.2" fill="#fa2414"/>
<rect x="337.7" y="1009.3" width="5.2" height="5.2" fill="#fa2414"/>
<rect x="340.8" y="1008.5" width="5.2" height="5.2" fill="#fa2414"/>
<rect x="343.9" y="1008.9" width="5.2" height="5.2" fill="#fa2414"/>
<rect x="347.0" y="1009.1" width="5.2" height="5.2" fill="#fa2414"/>
<rect x="350.1" y="1009.5" width="5.2" height="5.2" fill="#fa2414"/>
<rect x="353.2" y="1007.2" width="5.2" height="5.2" fill="#fa2414"/>
<rect x="356.3" y="1008.0" width="5.2" height="5.2" fill="#fa2414"/>
<rect x="359.4" y="1007.6" width="5.2" height="5.2" fill="#fa2414"/>
<rect x="362.5" y="1008.4" width="5.2" height="5.2" fill="#fa2414"/>
<rect x="365.6" y="1009.3" width="5.2" height="5.2" fill="#fa2414"/>
<rect x="368.7" y="1009.1" width="5.2" height="5.2" fill="#fa2414"/>
<rect x="371.8" y="1007.3" width="5.2" height="5.2" fill="#fa2414"/>
<rect x="374.9" y="1007.6" width="5.2" height="5.2" fill="#fa2414"/>
<rect x="378.0" y="1009.2" width="5.2" height="5.2" fill="#fa2414"/>
<rect x="381.1" y="1008.8" width="5.2" height="5.2" fill="#fa2414"/>
<rect x="384.2" y="1008.1" width="5.2" height="5.2" fill="#fa2414"/>
<rect x="387.3" y="1008.3" width="5.2" height="5.2" fill="#fa2414"/>
<rect x="390.5" y="1007.6" width="5.2" height="5.2" fill="#fa2414"/>
<rect x="393.6" y="1009.2" width="5.2" height="5.2" fill="#fa2414"/>
<rect x="396.7" y="1008.1" width="5.2" height="5.2" fill="#fa2414"/>
<rect x="399.8" y="1009.3" width="5.2" height="5.2" fill="#fa2414"/>
<rect x="402.9" y="1008.7" width="5.2" height="5.2" fill="#fa2414"/>
<rect x="406.0" y="1007.4" width="5.2" height="5.2" fill="#fa2414"/>
<rect x="409.1" y="1008.0" width="5.2" height="5.2" fill="#fa2414"/>
<rect x="412.2" y="1007.7" width="5.2" height="5.2" fill="#fa2414"/>
<rect x="415.3" y="1009.3" width="5.2" height="5.2" fill="#fa2414"/>
<rect x="418.4" y="1008.6" width="5.2" height="5.2" fill="#fa2414"/>
<rect x="421.5" y="1007.3" width="5.2" height="5.2" fill="#fa2414"/>
<rect x="424.6" y="1007.6" width="5.2" height="5.2" fill="#fa2414"/>
<rect x="427.7" y="1008.1" width="5.2" height="5.2" fill="#fa2414"/>
<rect x="430.8" y="1008.3" width="5.2" height="5.2" fill="#fa2414"/>
<rect x="433.9" y="1008.6" width="5.2" height="5.2" fill="#fa2414"/>
<rect x="437.0" y="1008.1" width="5.2" height="5.2" fill="#fa2414"/>
<rect x="440.1" y="1008.0" width="5.2" height="5.2" fill="#fa2414"/>
<rect x="443.2" y="1007.2" width="5.2" height="5.2" fill="#fa2414"/>
<rect x="446.3" y="1008.6" width="5.2" height="5.2" fill="#fa2414"/>
<rect x="449.4" y="1008.0" width="5.2" height="5.2" fill="#fa2414"/>
<rect x="379.7" y="993.4" width="5.2" height="5.2" fill="#fa2414"/>
<rect x="379.7" y="998.0" width="5.2" height="5.2" fill="#fa2414"/>
<rect x="379.7" y="1001.2" width="5.2" height="5.2" fill="#fa2414"/>
<rect x="379.7" y="1004.7" width="5.2" height="5.2" fill="#fa2414"/>
<rect x="382.7" y="993.9" width="5.2" height="5.2" fill="#fa2414"/>
<rect x="382.7" y="1000.8" width="5.2" height="5.2" fill="#fa2414"/>
<rect x="382.7" y="1004.7" width="5.2" height="5.2" fill="#fa2414"/>
<rect x="385.7" y="994.8" width="5.2" height="5.2" fill="#fa2414"/>
<rect x="385.7" y="998.8" width="5.2" height="5.2" fill="#fa2414"/>
<rect x="385.7" y="1002.3" width="5.2" height="5.2" fill="#fa2414"/>
<rect x="388.7" y="995.1" width="5.2" height="5.2" fill="#fa2414"/>
<rect x="388.7" y="998.6" width="5.2" height="5.2" fill="#fa2414"/>
<rect x="388.7" y="1002.8" width="5.2" height="5.2" fill="#fa2414"/>
<rect x="391.7" y="994.0" width="5.2" height="5.2" fill="#fa2414"/>
<rect x="391.7" y="997.7" width="5.2" height="5.2" fill="#fa2414"/>
<rect x="391.7" y="1001.2" width="5.2" height="5.2" fill="#fa2414"/>
<rect x="394.7" y="994.3" width="5.2" height="5.2" fill="#fa2414"/>
<rect x="394.7" y="997.7" width="5.2" height="5.2" fill="#fa2414"/>
<rect x="394.7" y="1001.2" width="5.2" height="5.2" fill="#fa2414"/>
<polygon points="516.0,740.3 518.8,745.3 513.2,745.3" fill="#1d6213"/>
<polygon points="518.9,740.7 521.6,745.7 516.1,745.7" fill="#1d6213"/>
<polygon points="521.8,739.8 524.5,744.8 519.0,744.8" fill="#1d6213"/>
<polygon points="524.6,739.3 527.4,744.3 521.9,744.3" fill="#1d6213"/>
<polygon points="527.5,738.9 530.3,743.9 524.8,743.9" fill="#1d6213"/>
<polygon points="530.4,739.8 533.1,744.8 527.6,744.8" fill="#1d6213"/>
<polygon points="533.3,739.8 536.0,744.8 530.5,744.8" fill="#1d6213"/>
<polygon points="536.1,741.3 538.9,746.3 533.4,746.3" fill="#1d6213"/>
<polygon points="539.0,740.7 541.8,745.7 536.3,745.7" fill="#1d6213"/>
<polygon points="541.9,742.1 544.7,747.1 539.2,747.1" fill="#1d6213"/>
<polygon points="544.8,739.9 547.5,744.9 542.0,744.9" fill="#1d6213"/>
<polygon points="547.7,742.0 550.4,747.0 544.9,747.0" fill="#1d6213"/>
<polygon points="550.5,740.8 553.3,745.8 547.8,745.8" fill="#1d6213"/>
<polygon points="553.4,739.0 556.2,744.0 550.7,744.0" fill="#1d6213"/>
<polygon points="556.3,739.3 559.0,744.3 553.5,744.3" fill="#1d6213"/>
<polygon points="559.2,740.8 561.9,745.8 556.4,745.8" fill="#1d6213"/>
<polygon points="562.0,742.3 564.8,747.3 559.3,747.3" fill="#1d6213"/>
<polygon points="564.9,740.0 567.7,745.0 562.2,745.0" fill="#1d6213"/>
<polygon points="567.8,741.5 570.6,746.5 565.1,746.5" fill="#1d6213"/>
<polygon points="570.7,740.2 573.4,745.2 567.9,745.2" fill="#1d6213"/>
<polygon points="573.6,741.8 576.3,746.8 570.8,746.8" fill="#1d6213"/>
<polygon points="576.4,738.9 579.2,743.9 573.7,743.9" fill="#1d6213"/>
<polygon points="579.3,740.4 582.1,745.4 576.6,745.4" fill="#1d6213"/>
<polygon points="582.2,741.9 584.9,746.9 579.4,746.9" fill="#1d6213"/>
<polygon points="585.1,739.7 587.8,744.7 582.3,744.7" fill="#1d6213"/>
<polygon points="588.0,739.6 590.7,744.6 585.2,744.6" fill="#1d6213"/>
<polygon points="590.8,738.8 593.6,743.8 588.1,743.8" fill="#1d6213"/>
<polygon points="593.7,739.3 596.5,744.3 591.0,744.3" fill="#1d6213"/>
<polygon points="596.6,739.7 599.3,744.7 593.8,744.7" fill="#1d6213"/>
<polygon points="599.5,741.2 602.2,746.2 596.7,746.2" fill="#1d6213"/>
<polygon points="602.3,739.5 605.1,744.5 599.6,744.5" fill="#1d6213"/>
<polygon points="605.2,740.1 608.0,745.1 602.5,745.1" fill="#1d6213"/>
<polygon points="608.1,739.4 610.8,744.4 605.3,744.4" fill="#1d6213"/>
<polygon points="611.0,740.9 613.7,745.9 608.2,745.9" fill="#1d6213"/>
<polygon points="613.9,741.8 616.6,746.8 611.1,746.8" fill="#1d6213"/>
<polygon points="616.7,741.0 619.5,746.0 614.0,746.0" fill="#1d6213"/>
<polygon points="619.6,739.4 622.4,744.4 616.9,744.4" fill="#1d6213"/>
<polygon points="622.5,741.3 625.2,746.3 619.7,746.3" fill="#1d6213"/>
<polygon points="625.4,742.2 628.1,747.2 622.6,747.2" fill="#1d6213"/>
<polygon points="628.2,740.9 631.0,745.9 625.5,745.9" fill="#1d6213"/>
<polygon points="631.1,739.0 633.9,744.0 628.4,744.0" fill="#1d6213"/>
<polygon points="634.0,741.6 636.8,746.6 631.2,746.6" fill="#1d6213"/>
<polygon points="522.0,738.4 524.8,743.4 519.2,743.4" fill="#1d6213"/>
<polygon points="525.7,737.1 528.5,742.1 523.0,742.1" fill="#1d6213"/>
<polygon points="529.4,736.6 532.2,741.6 526.7,741.6" fill="#1d6213"/>
<polygon points="533.2,736.8 535.9,741.8 530.4,741.8" fill="#1d6213"/>
<polygon points="536.9,737.6 539.6,742.6 534.1,742.6" fill="#1d6213"/>
<polygon points="540.6,738.4 543.4,743.4 537.9,743.4" fill="#1d6213"/>
<polygon points="544.3,737.8 547.1,742.8 541.6,742.8" fill="#1d6213"/>
<polygon points="548.1,738.5 550.8,743.5 545.3,743.5" fill="#1d6213"/>
<polygon points="551.8,736.8 554.5,741.8 549.0,741.8" fill="#1d6213"/>
<polygon points="555.5,737.1 558.3,742.1 552.8,742.1" fill="#1d6213"/>
<polygon points="559.2,738.1 562.0,743.1 556.5,743.1" fill="#1d6213"/>
<polygon points="563.0,737.9 565.7,742.9 560.2,742.9" fill="#1d6213"/>
<polygon points="566.7,737.3 569.4,742.3 563.9,742.3" fill="#1d6213"/>
<polygon points="570.4,737.9 573.2,742.9 567.7,742.9" fill="#1d6213"/>
<polygon points="574.1,737.1 576.9,742.1 571.4,742.1" fill="#1d6213"/>
<polygon points="577.9,736.4 580.6,741.4 575.1,741.4" fill="#1d6213"/>
<polygon points="581.6,737.3 584.3,742.3 578.8,742.3" fill="#1d6213"/>
<polygon points="585.3,736.4 588.1,741.4 582.6,741.4" fill="#1d6213"/>
<polygon points="589.0,737.8 591.8,742.8 586.3,742.8" fill="#1d6213"/>
<polygon points="592.8,737.1 595.5,742.1 590.0,742.1" fill="#1d6213"/>
<polygon points="596.5,737.5 599.2,742.5 593.7,742.5" fill="#1d6213"/>
<polygon points="600.2,737.7 603.0,742.7 597.5,742.7" fill="#1d6213"/>
<polygon points="603.9,736.9 606.7,741.9 601.2,741.9" fill="#1d6213"/>
<polygon points="607.7,737.4 610.4,742.4 604.9,742.4" fill="#1d6213"/>
<polygon points="611.4,736.3 614.1,741.3 608.6,741.3" fill="#1d6213"/>
<polygon points="615.1,738.5 617.9,743.5 612.4,743.5" fill="#1d6213"/>
<polygon points="618.8,737.7 621.6,742.7 616.1,742.7" fill="#1d6213"/>
<polygon points="622.6,738.7 625.3,743.7 619.8,743.7" fill="#1d6213"/>
<polygon points="626.3,736.4 629.0,741.4 623.5,741.4" fill="#1d6213"/>
<polygon points="630.0,737.8 632.8,742.8 627.2,742.8" fill="#1d6213"/>
<polygon points="569.3,742.3 572.0,747.3 566.5,747.3" fill="#1d6213"/>
<polygon points="569.3,745.5 572.0,750.5 566.5,750.5" fill="#1d6213"/>
<polygon points="572.3,742.4 575.0,747.4 569.5,747.4" fill="#1d6213"/>
<polygon points="572.3,746.7 575.0,751.7 569.5,751.7" fill="#1d6213"/>
<polygon points="575.3,742.1 578.0,747.1 572.5,747.1" fill="#1d6213"/>
<polygon points="575.3,746.1 578.0,751.1 572.5,751.1" fill="#1d6213"/>
<polygon points="578.3,742.3 581.0,747.3 575.5,747.3" fill="#1d6213"/>
<polygon points="578.3,746.5 581.0,751.5 575.5,751.5" fill="#1d6213"/>
<polygon points="581.3,741.6 584.0,746.6 578.5,746.6" fill="#1d6213"/>
<polygon points="581.3,746.1 584.0,751.1 578.5,751.1" fill="#1d6213"/>
<polygon points="575.5,749.0 578.3,754.0 572.8,754.0" fill="#1d6213"/>
<polygon points="575.9,753.0 578.7,758.0 573.2,758.0" fill="#1d6213"/>
<polygon points="575.1,757.0 577.9,762.0 572.4,762.0" fill="#1d6213"/>
<polygon points="575.0,761.0 577.8,766.0 572.3,766.0" fill="#1d6213"/>
<polygon points="575.5,765.0 578.2,770.0 572.7,770.0" fill="#1d6213"/>
<polygon points="575.7,769.0 578.4,774.0 572.9,774.0" fill="#1d6213"/>
<polygon points="575.8,773.0 578.5,778.0 573.0,778.0" fill="#1d6213"/>
<polygon points="575.4,777.0 578.1,782.0 572.6,782.0" fill="#1d6213"/>
<polygon points="576.0,781.0 578.7,786.0 573.2,786.0" fill="#1d6213"/>
<polygon points="575.2,785.0 578.0,790.0 572.5,790.0" fill="#1d6213"/>
<polygon points="575.8,790.0 578.5,795.0 573.0,795.0" fill="#1d6213"/>
<polygon points="575.1,795.0 577.8,800.0 572.3,800.0" fill="#1d6213"/>
<polygon points="575.0,800.0 577.8,805.0 572.3,805.0" fill="#1d6213"/>
<polygon points="575.1,805.0 577.9,810.0 572.4,810.0" fill="#1d6213"/>
<polygon points="575.1,819.0 577.8,824.0 572.3,824.0" fill="#1d6213"/>
<polygon points="575.5,823.0 578.3,828.0 572.8,828.0" fill="#1d6213"/>
<polygon points="575.6,827.0 578.3,832.0 572.8,832.0" fill="#1d6213"/>
<polygon points="575.2,842.0 577.9,847.0 572.4,847.0" fill="#1d6213"/>
<polygon points="575.9,847.0 578.7,852.0 573.2,852.0" fill="#1d6213"/>
<polygon points="575.4,852.0 578.1,857.0 572.6,857.0" fill="#1d6213"/>
<polygon points="575.1,859.0 577.9,864.0 572.4,864.0" fill="#1d6213"/>
<polygon points="575.2,882.6 577.9,887.6 572.4,887.6" fill="#1d6213"/>
<polygon points="575.7,918.6 578.5,923.6 573.0,923.6" fill="#1d6213"/>
<polygon points="575.9,931.5 578.7,936.5 573.2,936.5" fill="#1d6213"/>
<polygon points="575.2,944.5 577.9,949.5 572.4,949.5" fill="#1d6213"/>
<polygon points="575.0,949.0 577.8,954.0 572.3,954.0" fill="#1d6213"/>
<polygon points="575.8,954.5 578.5,959.5 573.0,959.5" fill="#1d6213"/>
<polygon points="575.2,965.4 578.0,970.4 572.5,970.4" fill="#1d6213"/>
<polygon points="576.0,974.0 578.7,979.0 573.2,979.0" fill="#1d6213"/>
<polygon points="575.5,978.0 578.2,983.0 572.7,983.0" fill="#1d6213"/>
<polygon points="575.6,984.0 578.4,989.0 572.9,989.0" fill="#1d6213"/>
<polygon points="575.3,988.0 578.1,993.0 572.6,993.0" fill="#1d6213"/>
<polygon points="575.8,992.0 578.6,997.0 573.1,997.0" fill="#1d6213"/>
<polygon points="575.5,996.0 578.2,1001.0 572.7,1001.0" fill="#1d6213"/>
<polygon points="575.3,1000.0 578.1,1005.0 572.6,1005.0" fill="#1d6213"/>
<polygon points="561.0,1009.3 563.8,1014.3 558.2,1014.3" fill="#1d6213"/>
<polygon points="563.6,1007.7 566.4,1012.7 560.9,1012.7" fill="#1d6213"/>
<polygon points="566.3,1009.0 569.0,1014.0 563.5,1014.0" fill="#1d6213"/>
<polygon points="568.9,1007.6 571.7,1012.6 566.2,1012.6" fill="#1d6213"/>
<polygon points="571.5,1008.8 574.3,1013.8 568.8,1013.8" fill="#1d6213"/>
<polygon points="574.2,1008.3 576.9,1013.3 571.4,1013.3" fill="#1d6213"/>
<polygon points="576.8,1009.2 579.6,1014.2 574.1,1014.2" fill="#1d6213"/>
<polygon points="579.5,1007.6 582.2,1012.6 576.7,1012.6" fill="#1d6213"/>
<polygon points="582.1,1008.6 584.8,1013.6 579.3,1013.6" fill="#1d6213"/>
<polygon points="584.7,1008.3 587.5,1013.3 582.0,1013.3" fill="#1d6213"/>
<polygon points="587.4,1009.3 590.1,1014.3 584.6,1014.3" fill="#1d6213"/>
<polygon points="590.0,1009.4 592.8,1014.4 587.2,1014.4" fill="#1d6213"/>
<polygon points="567.0,1004.7 569.8,1009.7 564.2,1009.7" fill="#1d6213"/>
<polygon points="570.4,1004.1 573.1,1009.1 567.6,1009.1" fill="#1d6213"/>
<polygon points="573.8,1004.1 576.5,1009.1 571.0,1009.1" fill="#1d6213"/>
<polygon points="577.2,1004.1 580.0,1009.1 574.5,1009.1" fill="#1d6213"/>
<polygon points="580.6,1004.4 583.4,1009.4 577.9,1009.4" fill="#1d6213"/>
<polygon points="584.0,1004.1 586.8,1009.1 581.2,1009.1" fill="#1d6213"/>
<line x1="84.4" y1="710.0" x2="84.4" y2="1020.3" stroke="#000" stroke-width="4.1"/>
<line x1="82.4" y1="1018.3" x2="700.0" y2="1018.3" stroke="#000" stroke-width="4.1"/>
<line x1="73.0" y1="1018.3" x2="84.4" y2="1018.3" stroke="#000" stroke-width="3.4"/>
<text x="70.3" y="1025.4" font-family='"Liberation Sans", Arial, sans-serif' font-size="19.8" font-weight="bold" text-anchor="end" fill="#000">0.0</text>
<line x1="73.0" y1="962.8" x2="84.4" y2="962.8" stroke="#000" stroke-width="3.4"/>
<text x="70.3" y="969.9" font-family='"Liberation Sans", Arial, sans-serif' font-size="19.8" font-weight="bold" text-anchor="end" fill="#000">0.2</text>
<line x1="73.0" y1="907.4" x2="84.4" y2="907.4" stroke="#000" stroke-width="3.4"/>
<text x="70.3" y="914.5" font-family='"Liberation Sans", Arial, sans-serif' font-size="19.8" font-weight="bold" text-anchor="end" fill="#000">0.4</text>
<line x1="73.0" y1="851.9" x2="84.4" y2="851.9" stroke="#000" stroke-width="3.4"/>
<text x="70.3" y="859.0" font-family='"Liberation Sans", Arial, sans-serif' font-size="19.8" font-weight="bold" text-anchor="end" fill="#000">0.6</text>
<line x1="73.0" y1="796.5" x2="84.4" y2="796.5" stroke="#000" stroke-width="3.4"/>
<text x="70.3" y="803.6" font-family='"Liberation Sans", Arial, sans-serif' font-size="19.8" font-weight="bold" text-anchor="end" fill="#000">0.8</text>
<line x1="73.0" y1="741.0" x2="84.4" y2="741.0" stroke="#000" stroke-width="3.4"/>
<text x="70.3" y="748.1" font-family='"Liberation Sans", Arial, sans-serif' font-size="19.8" font-weight="bold" text-anchor="end" fill="#000">1.0</text>
<line x1="206.7" y1="1018.3" x2="206.7" y2="1030.3" stroke="#000" stroke-width="3.8"/>
<text x="212.5" y="1061.0" font-family='"Liberation Sans", Arial, sans-serif' font-size="25.5" font-weight="normal" text-anchor="middle" fill="#000">HC</text>
<line x1="391.3" y1="1018.3" x2="391.3" y2="1030.3" stroke="#000" stroke-width="3.8"/>
<text x="403.0" y="1061.0" font-family='"Liberation Sans", Arial, sans-serif' font-size="25.5" font-weight="normal" text-anchor="middle" fill="#000">LC</text>
<line x1="575.3" y1="1018.3" x2="575.3" y2="1030.3" stroke="#000" stroke-width="3.8"/>
<text x="595.0" y="1061.0" font-family='"Liberation Sans", Arial, sans-serif' font-size="25.5" font-weight="normal" text-anchor="middle" fill="#000">GC</text>
<text x="25.5" y="865.2" font-family='"Liberation Sans", Arial, sans-serif' font-size="32" font-weight="bold" text-anchor="middle" fill="#000" transform="rotate(-90 25.5 865.2)">Predicted Probability</text>
<line x1="88.4" y1="926.8" x2="640" y2="926.8" stroke="#000" stroke-width="4" stroke-linecap="round" stroke-dasharray="0 11.67"/>
<line x1="650.1" y1="965.4" x2="614" y2="928.3" stroke="#000" stroke-width="3.2" stroke-dasharray="9 3"/>
<polygon points="614,928.3 627.2,933.6 618.9,941.7" fill="#000"/>
<text x="612.5" y="990.4" font-family='"Liberation Serif", "Times New Roman", serif' font-size="36" font-weight="normal" text-anchor="start" fill="#000">y=0.33</text>
<rect x="814.50" y="60.00" width="130.77" height="130.63" fill="#9669b8"/>
<rect x="945.27" y="60.00" width="130.77" height="130.63" fill="#dfcdd9"/>
<rect x="1076.03" y="60.00" width="130.77" height="130.63" fill="#eeeae3"/>
<rect x="814.50" y="190.63" width="130.77" height="130.63" fill="#e0d3db"/>
<rect x="945.27" y="190.63" width="130.77" height="130.63" fill="#8a58b4"/>
<rect x="1076.03" y="190.63" width="130.77" height="130.63" fill="#f1efe5"/>
<rect x="814.50" y="321.27" width="130.77" height="130.63" fill="#e2d6dc"/>
<rect x="945.27" y="321.27" width="130.77" height="130.63" fill="#f6f3e5"/>
<rect x="1076.03" y="321.27" width="130.77" height="130.63" fill="#8a59b3"/>
<line x1="945.3" y1="60.0" x2="945.3" y2="451.9" stroke="#fff" stroke-width="2.2"/>
<line x1="814.5" y1="190.6" x2="1206.8" y2="190.6" stroke="#fff" stroke-width="2.2"/>
<line x1="1076.0" y1="60.0" x2="1076.0" y2="451.9" stroke="#fff" stroke-width="2.2"/>
<line x1="814.5" y1="321.3" x2="1206.8" y2="321.3" stroke="#fff" stroke-width="2.2"/>
<rect x="814.5" y="60.0" width="392.3" height="391.9" fill="none" stroke="#000" stroke-width="2.2"/>
<text x="879.9" y="136.1" font-family='"Liberation Sans", Arial, sans-serif' font-size="28" font-weight="bold" text-anchor="middle" fill="#ffffff">71.6%</text>
<text x="1010.6" y="136.1" font-family='"Liberation Sans", Arial, sans-serif' font-size="28" font-weight="bold" text-anchor="middle" fill="#000000">20.9%</text>
<text x="1141.4" y="136.1" font-family='"Liberation Sans", Arial, sans-serif' font-size="28" font-weight="bold" text-anchor="middle" fill="#000000">7.5%</text>
<text x="879.9" y="266.8" font-family='"Liberation Sans", Arial, sans-serif' font-size="28" font-weight="bold" text-anchor="middle" fill="#000000">14.9%</text>
<text x="1010.6" y="266.8" font-family='"Liberation Sans", Arial, sans-serif' font-size="28" font-weight="bold" text-anchor="middle" fill="#ffffff">79.8%</text>
<text x="1141.4" y="266.8" font-family='"Liberation Sans", Arial, sans-serif' font-size="28" font-weight="bold" text-anchor="middle" fill="#000000">5.3%</text>
<text x="879.9" y="397.4" font-family='"Liberation Sans", Arial, sans-serif' font-size="28" font-weight="bold" text-anchor="middle" fill="#000000">16.4%</text>
<text x="1010.6" y="397.4" font-family='"Liberation Sans", Arial, sans-serif' font-size="28" font-weight="bold" text-anchor="middle" fill="#000000">3.3%</text>
<text x="1141.4" y="397.4" font-family='"Liberation Sans", Arial, sans-serif' font-size="28" font-weight="bold" text-anchor="middle" fill="#ffffff">80.3%</text>
<text x="805.0" y="135.8" font-family='"Liberation Sans", Arial, sans-serif' font-size="24" font-weight="normal" text-anchor="end" fill="#000">HC</text>
<text x="879.9" y="482.2" font-family='"Liberation Sans", Arial, sans-serif' font-size="24" font-weight="normal" text-anchor="middle" fill="#000">HC</text>
<text x="805.0" y="266.4" font-family='"Liberation Sans", Arial, sans-serif' font-size="24" font-weight="normal" text-anchor="end" fill="#000">LC</text>
<text x="1010.6" y="482.2" font-family='"Liberation Sans", Arial, sans-serif' font-size="24" font-weight="normal" text-anchor="middle" fill="#000">LC</text>
<text x="805.0" y="397.1" font-family='"Liberation Sans", Arial, sans-serif' font-size="24" font-weight="normal" text-anchor="end" fill="#000">GC</text>
<text x="1141.4" y="482.2" font-family='"Liberation Sans", Arial, sans-serif' font-size="24" font-weight="normal" text-anchor="middle" fill="#000">GC</text>
<text x="1010.6" y="42.8" font-family='"Liberation Sans", Arial, sans-serif' font-size="28" font-weight="normal" text-anchor="middle" fill="#000">Confusion matrix</text>
<text x="1010.6" y="524.4" font-family='"Liberation Sans", Arial, sans-serif' font-size="27.7" font-weight="normal" text-anchor="middle" fill="#000">Predicted label</text>
<text x="749.5" y="266.8" font-family='"Liberation Sans", Arial, sans-serif' font-size="27.5" font-weight="normal" text-anchor="middle" fill="#000" transform="rotate(-90 749.5 266.8)">True label</text>
<defs><linearGradient id="cb0" x1="0" y1="1" x2="0" y2="0"><stop offset="0" stop-color="#f8f8e8"/><stop offset="0.1" stop-color="#f5f3e6"/><stop offset="0.2" stop-color="#f1ede3"/><stop offset="0.3" stop-color="#e9e2df"/><stop offset="0.4" stop-color="#dccfd7"/><stop offset="0.5" stop-color="#c6b6ca"/><stop offset="0.6" stop-color="#a994bd"/><stop offset="0.7" stop-color="#9079b3"/><stop offset="0.8" stop-color="#7c5aac"/><stop offset="0.9" stop-color="#7042a8"/><stop offset="1" stop-color="#6a2da8"/></linearGradient></defs>
<rect x="1238.8" y="59.8" width="25.9" height="391.9" fill="url(#cb0)"/>
<text x="1269.3" y="71.4" font-family='"Liberation Sans", Arial, sans-serif' font-size="27.9" font-weight="normal" text-anchor="start" fill="#000">100%</text>
<text x="1269.3" y="459.8" font-family='"Liberation Sans", Arial, sans-serif' font-size="27.9" font-weight="normal" text-anchor="start" fill="#000">0%</text>
<rect x="814.50" y="641.00" width="130.77" height="130.63" fill="#8854b2"/>
<rect x="945.27" y="641.00" width="130.77" height="130.63" fill="#eae0e0"/>
<rect x="1076.03" y="641.00" width="130.77" height="130.63" fill="#f0eee4"/>
<rect x="814.50" y="771.63" width="130.77" height="130.63" fill="#ebe0e1"/>
<rect x="945.27" y="771.63" width="130.77" height="130.63" fill="#8650b1"/>
<rect x="1076.03" y="771.63" width="130.77" height="130.63" fill="#f3f0e4"/>
<rect x="814.50" y="902.27" width="130.77" height="130.63" fill="#ebe2e2"/>
<rect x="945.27" y="902.27" width="130.77" height="130.63" fill="#f7f5e6"/>
<rect x="1076.03" y="902.27" width="130.77" height="130.63" fill="#7e48ae"/>
<line x1="945.3" y1="641.0" x2="945.3" y2="1032.9" stroke="#fff" stroke-width="2.2"/>
<line x1="814.5" y1="771.6" x2="1206.8" y2="771.6" stroke="#fff" stroke-width="2.2"/>
<line x1="1076.0" y1="641.0" x2="1076.0" y2="1032.9" stroke="#fff" stroke-width="2.2"/>
<line x1="814.5" y1="902.3" x2="1206.8" y2="902.3" stroke="#fff" stroke-width="2.2"/>
<rect x="814.5" y="641.0" width="392.3" height="391.9" fill="none" stroke="#000" stroke-width="2.2"/>
<text x="879.9" y="717.1" font-family='"Liberation Sans", Arial, sans-serif' font-size="28" font-weight="bold" text-anchor="middle" fill="#ffffff">82.1%</text>
<text x="1010.6" y="717.1" font-family='"Liberation Sans", Arial, sans-serif' font-size="28" font-weight="bold" text-anchor="middle" fill="#000000">11.9%</text>
<text x="1141.4" y="717.1" font-family='"Liberation Sans", Arial, sans-serif' font-size="28" font-weight="bold" text-anchor="middle" fill="#000000">6.0%</text>
<text x="879.9" y="847.8" font-family='"Liberation Sans", Arial, sans-serif' font-size="28" font-weight="bold" text-anchor="middle" fill="#000000">11.7%</text>
<text x="1010.6" y="847.8" font-family='"Liberation Sans", Arial, sans-serif' font-size="28" font-weight="bold" text-anchor="middle" fill="#ffffff">84.0%</text>
<text x="1141.4" y="847.8" font-family='"Liberation Sans", Arial, sans-serif' font-size="28" font-weight="bold" text-anchor="middle" fill="#000000">4.3%</text>
<text x="879.9" y="978.4" font-family='"Liberation Sans", Arial, sans-serif' font-size="28" font-weight="bold" text-anchor="middle" fill="#000000">10.2%</text>
<text x="1010.6" y="978.4" font-family='"Liberation Sans", Arial, sans-serif' font-size="28" font-weight="bold" text-anchor="middle" fill="#000000">1.7%</text>
<text x="1141.4" y="978.4" font-family='"Liberation Sans", Arial, sans-serif' font-size="28" font-weight="bold" text-anchor="middle" fill="#ffffff">88.1%</text>
<text x="805.0" y="716.8" font-family='"Liberation Sans", Arial, sans-serif' font-size="24" font-weight="normal" text-anchor="end" fill="#000">HC</text>
<text x="879.9" y="1063.2" font-family='"Liberation Sans", Arial, sans-serif' font-size="24" font-weight="normal" text-anchor="middle" fill="#000">HC</text>
<text x="805.0" y="847.5" font-family='"Liberation Sans", Arial, sans-serif' font-size="24" font-weight="normal" text-anchor="end" fill="#000">LC</text>
<text x="1010.6" y="1063.2" font-family='"Liberation Sans", Arial, sans-serif' font-size="24" font-weight="normal" text-anchor="middle" fill="#000">LC</text>
<text x="805.0" y="978.1" font-family='"Liberation Sans", Arial, sans-serif' font-size="24" font-weight="normal" text-anchor="end" fill="#000">GC</text>
<text x="1141.4" y="1063.2" font-family='"Liberation Sans", Arial, sans-serif' font-size="24" font-weight="normal" text-anchor="middle" fill="#000">GC</text>
<text x="1010.6" y="623.8" font-family='"Liberation Sans", Arial, sans-serif' font-size="28" font-weight="normal" text-anchor="middle" fill="#000">Confusion matrix</text>
<text x="1010.6" y="1105.4" font-family='"Liberation Sans", Arial, sans-serif' font-size="27.7" font-weight="normal" text-anchor="middle" fill="#000">Predicted label</text>
<text x="749.5" y="847.8" font-family='"Liberation Sans", Arial, sans-serif' font-size="27.5" font-weight="normal" text-anchor="middle" fill="#000" transform="rotate(-90 749.5 847.8)">True label</text>
<defs><linearGradient id="cb581" x1="0" y1="1" x2="0" y2="0"><stop offset="0" stop-color="#f8f8e8"/><stop offset="0.1" stop-color="#f5f3e6"/><stop offset="0.2" stop-color="#f1ede3"/><stop offset="0.3" stop-color="#e9e2df"/><stop offset="0.4" stop-color="#dccfd7"/><stop offset="0.5" stop-color="#c6b6ca"/><stop offset="0.6" stop-color="#a994bd"/><stop offset="0.7" stop-color="#9079b3"/><stop offset="0.8" stop-color="#7c5aac"/><stop offset="0.9" stop-color="#7042a8"/><stop offset="1" stop-color="#6a2da8"/></linearGradient></defs>
<rect x="1238.8" y="640.8" width="25.9" height="391.9" fill="url(#cb581)"/>
<text x="1269.3" y="652.4" font-family='"Liberation Sans", Arial, sans-serif' font-size="27.9" font-weight="normal" text-anchor="start" fill="#000">100%</text>
<text x="1269.3" y="1040.8" font-family='"Liberation Sans", Arial, sans-serif' font-size="27.9" font-weight="normal" text-anchor="start" fill="#000">0%</text>
<defs><clipPath id="clip0"><rect x="1444.3" y="68.1" width="540.7" height="405.20000000000005"/></clipPath></defs>
<g clip-path="url(#clip0)">
<polygon points="1444.3,473.3 1449.2,383.3 1460.7,383.3 1465.7,276.3 1477.6,273.3 1484.4,250.3 1493.3,250.3 1498.6,209.5 1509.8,209.5 1514.8,199.6 1525.4,199.6 1531.6,185.5 1547.8,185.5 1553.5,168.4 1559.1,168.4 1564.1,156.3 1580.3,156.3 1585.9,158.6 1695.8,158.6 1701.4,144.9 1750.2,144.9 1755.9,131.6 1810.6,131.6 1815.8,120.9 1843.4,120.9 1849.0,107.5 1858.8,107.5 1865.0,115.7 1892.6,115.7 1903.9,94.4 1915.2,90.3 1930.6,90.3 1936.7,85.4 1947.0,85.4 1952.1,84.4 1985.0,87.4 1985.0,87.4 1952.1,90.4 1947.0,114.6 1936.7,114.6 1930.6,134.3 1915.2,134.3 1903.9,138.4 1892.6,145.7 1865.0,145.7 1858.8,180.5 1849.0,180.5 1843.4,202.1 1815.8,202.1 1810.6,203.6 1755.9,203.6 1750.2,203.9 1701.4,203.9 1695.8,214.6 1585.9,214.6 1580.3,229.3 1564.1,229.3 1559.1,228.4 1553.5,228.4 1547.8,237.5 1531.6,237.5 1525.4,249.6 1514.8,249.6 1509.8,311.5 1498.6,311.5 1493.3,360.3 1484.4,360.3 1477.6,373.3 1465.7,370.3 1460.7,465.3 1449.2,465.3 1444.3,473.3" fill="#0000ff" fill-opacity="0.2" stroke="#0000ff" stroke-opacity="0.25" stroke-width="1"/>
<polygon points="1444.3,473.3 1449.2,306.4 1460.4,306.4 1465.7,284.7 1470.9,192.8 1482.6,192.8 1488.1,157.5 1493.0,153.7 1503.6,153.7 1509.2,110.8 1531.6,110.8 1536.6,138.5 1547.8,138.5 1559.1,110.6 1575.3,110.6 1580.9,103.9 1657.5,103.9 1663.0,99.0 1712.2,99.0 1717.4,103.1 1755.3,103.1 1760.8,95.2 1799.4,95.2 1805.1,90.8 1848.6,90.8 1853.7,85.4 1965.4,85.6 1970.5,84.2 1979.8,89.1 1985.0,87.4 1985.0,87.4 1979.8,94.5 1970.5,99.4 1965.4,106.2 1853.7,106.4 1848.6,109.2 1805.1,109.2 1799.4,121.2 1760.8,121.2 1755.3,121.5 1717.4,121.5 1712.2,133.8 1663.0,133.8 1657.5,137.9 1580.9,137.9 1575.3,146.6 1559.1,146.6 1547.8,167.3 1536.6,167.3 1531.6,284.8 1509.2,284.8 1503.6,331.7 1493.0,331.7 1488.1,351.5 1482.6,438.8 1470.9,438.8 1465.7,454.7 1460.4,458.4 1449.2,458.4 1444.3,473.3" fill="#ff0000" fill-opacity="0.2" stroke="#ff0000" stroke-opacity="0.25" stroke-width="1"/>
<polygon points="1444.3,473.3 1449.2,237.5 1459.7,237.5 1465.7,208.4 1476.9,208.4 1479.5,106.1 1493.0,106.1 1498.0,120.5 1509.8,120.5 1514.8,105.8 1520.4,99.7 1547.8,99.7 1552.8,89.5 1564.1,89.5 1569.7,90.9 1580.3,90.9 1585.9,89.3 1646.0,89.3 1651.8,91.8 1711.6,91.8 1717.4,81.1 1979.8,81.1 1985.0,87.4 1985.0,87.4 1979.8,106.5 1717.4,106.5 1711.6,120.4 1651.8,120.4 1646.0,136.5 1585.9,136.5 1580.3,146.9 1569.7,146.9 1564.1,161.5 1552.8,161.5 1547.8,163.7 1520.4,163.7 1514.8,183.8 1509.8,206.5 1498.0,206.5 1493.0,272.1 1479.5,272.1 1476.9,396.4 1465.7,396.4 1459.7,443.5 1449.2,443.5 1444.3,473.3" fill="#008000" fill-opacity="0.2" stroke="#008000" stroke-opacity="0.25" stroke-width="1"/>
<line x1="1444.3" y1="473.3" x2="1985.0" y2="87.4" stroke="#000" stroke-width="1.4" stroke-dasharray="5.5 2.4"/>
<polyline points="1444.3,473.3 1449.2,424.3 1460.7,424.3 1465.7,323.3 1477.6,323.3 1484.4,305.3 1493.3,305.3 1498.6,260.5 1509.8,260.5 1514.8,224.6 1525.4,224.6 1531.6,211.5 1547.8,211.5 1553.5,198.4 1559.1,198.4 1564.1,192.8 1580.3,192.8 1585.9,186.6 1695.8,186.6 1701.4,174.4 1750.2,174.4 1755.9,167.6 1810.6,167.6 1815.8,161.5 1843.4,161.5 1849.0,144.0 1858.8,144.0 1865.0,130.7 1892.6,130.7 1903.9,116.4 1915.2,112.3 1930.6,112.3 1936.7,100.0 1947.0,100.0 1952.1,87.4 1985.0,87.4" fill="none" stroke="#0000ff" stroke-width="2.6" stroke-linejoin="miter"/>
<polyline points="1444.3,473.3 1449.2,382.4 1460.4,382.4 1465.7,369.7 1470.9,315.8 1482.6,315.8 1488.1,254.5 1493.0,242.7 1503.6,242.7 1509.2,197.8 1531.6,197.8 1536.6,152.9 1547.8,152.9 1559.1,128.6 1575.3,128.6 1580.9,120.9 1657.5,120.9 1663.0,116.4 1712.2,116.4 1717.4,112.3 1755.3,112.3 1760.8,108.2 1799.4,108.2 1805.1,100.0 1848.6,100.0 1853.7,95.9 1965.4,95.9 1970.5,91.8 1979.8,91.8 1985.0,87.4" fill="none" stroke="#ff0000" stroke-width="2.6" stroke-linejoin="miter"/>
<polyline points="1444.3,473.3 1449.2,340.5 1459.7,340.5 1465.7,302.4 1476.9,302.4 1479.5,189.1 1493.0,189.1 1498.0,163.5 1509.8,163.5 1514.8,144.8 1520.4,131.7 1547.8,131.7 1552.8,125.5 1564.1,125.5 1569.7,118.9 1580.3,118.9 1585.9,112.9 1646.0,112.9 1651.8,106.1 1711.6,106.1 1717.4,93.8 1979.8,93.8 1985.0,87.4" fill="none" stroke="#008000" stroke-width="2.6" stroke-linejoin="miter"/>
</g>
<rect x="1444.3" y="68.1" width="540.7" height="405.20000000000005" fill="none" stroke="#3a3a3a" stroke-width="1.4"/>
<line x1="1439.8" y1="473.3" x2="1444.3" y2="473.3" stroke="#000" stroke-width="1.3"/>
<line x1="1444.3" y1="473.3" x2="1444.3" y2="477.8" stroke="#000" stroke-width="1.3"/>
<text x="1437.0" y="480.1" font-family='"DejaVu Sans", sans-serif' font-size="17.0" font-weight="normal" text-anchor="end" fill="#000">0.0</text>
<text x="1444.3" y="493.8" font-family='"DejaVu Sans", sans-serif' font-size="17.0" font-weight="normal" text-anchor="middle" fill="#000">0.0</text>
<line x1="1439.8" y1="396.1" x2="1444.3" y2="396.1" stroke="#000" stroke-width="1.3"/>
<line x1="1552.4" y1="473.3" x2="1552.4" y2="477.8" stroke="#000" stroke-width="1.3"/>
<text x="1437.0" y="402.9" font-family='"DejaVu Sans", sans-serif' font-size="17.0" font-weight="normal" text-anchor="end" fill="#000">0.2</text>
<text x="1552.4" y="493.8" font-family='"DejaVu Sans", sans-serif' font-size="17.0" font-weight="normal" text-anchor="middle" fill="#000">0.2</text>
<line x1="1439.8" y1="318.9" x2="1444.3" y2="318.9" stroke="#000" stroke-width="1.3"/>
<line x1="1660.6" y1="473.3" x2="1660.6" y2="477.8" stroke="#000" stroke-width="1.3"/>
<text x="1437.0" y="325.7" font-family='"DejaVu Sans", sans-serif' font-size="17.0" font-weight="normal" text-anchor="end" fill="#000">0.4</text>
<text x="1660.6" y="493.8" font-family='"DejaVu Sans", sans-serif' font-size="17.0" font-weight="normal" text-anchor="middle" fill="#000">0.4</text>
<line x1="1439.8" y1="241.8" x2="1444.3" y2="241.8" stroke="#000" stroke-width="1.3"/>
<line x1="1768.7" y1="473.3" x2="1768.7" y2="477.8" stroke="#000" stroke-width="1.3"/>
<text x="1437.0" y="248.6" font-family='"DejaVu Sans", sans-serif' font-size="17.0" font-weight="normal" text-anchor="end" fill="#000">0.6</text>
<text x="1768.7" y="493.8" font-family='"DejaVu Sans", sans-serif' font-size="17.0" font-weight="normal" text-anchor="middle" fill="#000">0.6</text>
<line x1="1439.8" y1="164.6" x2="1444.3" y2="164.6" stroke="#000" stroke-width="1.3"/>
<line x1="1876.9" y1="473.3" x2="1876.9" y2="477.8" stroke="#000" stroke-width="1.3"/>
<text x="1437.0" y="171.4" font-family='"DejaVu Sans", sans-serif' font-size="17.0" font-weight="normal" text-anchor="end" fill="#000">0.8</text>
<text x="1876.9" y="493.8" font-family='"DejaVu Sans", sans-serif' font-size="17.0" font-weight="normal" text-anchor="middle" fill="#000">0.8</text>
<line x1="1439.8" y1="87.4" x2="1444.3" y2="87.4" stroke="#000" stroke-width="1.3"/>
<line x1="1985.0" y1="473.3" x2="1985.0" y2="477.8" stroke="#000" stroke-width="1.3"/>
<text x="1437.0" y="94.2" font-family='"DejaVu Sans", sans-serif' font-size="17.0" font-weight="normal" text-anchor="end" fill="#000">1.0</text>
<text x="1985.0" y="493.8" font-family='"DejaVu Sans", sans-serif' font-size="17.0" font-weight="normal" text-anchor="middle" fill="#000">1.0</text>
<text x="1575.7" y="52.5" font-family='"Liberation Sans", Arial, sans-serif' font-size="27.9" font-weight="normal" text-anchor="start" fill="#000">ROC curve of 1D CNN</text>
<text x="1715.2" y="519.8" font-family='"DejaVu Sans", sans-serif' font-size="24.5" font-weight="normal" text-anchor="middle" fill="#000">False Positive Rate</text>
<text x="1400.4" y="270.7" font-family='"DejaVu Sans", sans-serif' font-size="24.7" font-weight="normal" text-anchor="middle" fill="#000" transform="rotate(-90 1400.4 270.7)">True Positive Rate</text>
<rect x="1484.6" y="380.5" width="491.4" height="84.1" rx="4" fill="#fff" fill-opacity="0.8" stroke="#d0d0d0" stroke-width="1.2"/>
<line x1="1491.0" y1="395.0" x2="1528.0" y2="395.0" stroke="#0000ff" stroke-width="2.3"/>
<text x="1541.7" y="401.5" font-family='"DejaVu Sans", sans-serif' font-size="17.8" font-weight="normal" text-anchor="start" fill="#000">Healthy control (AUC = 0.75, 95% CI 0.70–0.80)</text>
<line x1="1491.0" y1="421.2" x2="1528.0" y2="421.2" stroke="#ff0000" stroke-width="2.3"/>
<text x="1541.7" y="427.8" font-family='"DejaVu Sans", sans-serif' font-size="17.8" font-weight="normal" text-anchor="start" fill="#000">Lung cancer (AUC = 0.87, 95% CI 0.83–0.90)</text>
<line x1="1491.0" y1="447.5" x2="1528.0" y2="447.5" stroke="#008000" stroke-width="2.3"/>
<text x="1541.7" y="454.0" font-family='"DejaVu Sans", sans-serif' font-size="17.8" font-weight="normal" text-anchor="start" fill="#000">Gastric cancer (AUC = 0.91, 95% CI 0.86–0.96)</text>
<defs><clipPath id="clip570"><rect x="1444.3" y="639.0" width="540.7" height="405.20000000000005"/></clipPath></defs>
<g clip-path="url(#clip570)">
<polygon points="1444.2,1044.2 1449.2,976.8 1460.4,975.0 1465.7,783.6 1476.9,783.6 1481.8,716.3 1493.0,713.3 1498.6,696.8 1509.8,696.8 1514.8,684.7 1520.4,674.8 1526.6,674.8 1531.0,683.5 1542.2,683.5 1547.8,671.2 1640.5,671.5 1645.6,660.9 1788.1,660.9 1793.2,655.4 1859.8,655.4 1865.0,651.9 1876.2,651.9 1881.4,653.7 1985.0,657.9 1985.0,657.9 1881.4,663.7 1876.2,677.9 1865.0,677.9 1859.8,685.4 1793.2,685.4 1788.1,704.9 1645.6,704.9 1640.5,707.5 1547.8,707.2 1542.2,707.5 1531.0,707.5 1526.6,788.4 1520.4,788.4 1514.8,792.3 1509.8,856.2 1498.6,856.2 1493.0,913.3 1481.8,910.3 1476.9,941.6 1465.7,941.6 1460.4,1015.0 1449.2,1020.8 1444.2,1044.2" fill="#0000ff" fill-opacity="0.2" stroke="#0000ff" stroke-opacity="0.25" stroke-width="1"/>
<polygon points="1444.2,1044.2 1447.5,840.0 1449.3,697.5 1460.6,699.6 1465.5,687.9 1470.5,700.8 1482.4,700.8 1493.6,689.7 1503.6,690.7 1509.8,686.1 1547.8,686.1 1552.8,677.6 1570.3,677.6 1580.9,671.1 1596.4,672.0 1602.1,666.0 1624.1,666.0 1645.6,660.9 1733.8,660.9 1738.9,656.6 1777.8,656.6 1784.0,651.1 1799.3,651.1 1804.5,654.6 1892.6,654.6 1897.8,652.5 1919.3,652.5 1925.4,654.4 1979.8,656.4 1985.0,657.9 1985.0,657.9 1979.8,668.4 1925.4,670.4 1919.3,680.5 1897.8,680.5 1892.6,686.2 1804.5,686.2 1799.3,697.1 1784.0,697.1 1777.8,700.6 1738.9,700.6 1733.8,704.9 1645.6,704.9 1624.1,708.0 1602.1,708.0 1596.4,720.0 1580.9,719.9 1570.3,731.6 1552.8,731.6 1547.8,729.1 1509.8,729.1 1503.6,732.7 1493.6,733.7 1482.4,738.8 1470.5,738.8 1465.5,853.9 1460.6,859.6 1449.3,865.5 1447.5,960.0 1444.2,1044.2" fill="#ff0000" fill-opacity="0.2" stroke="#ff0000" stroke-opacity="0.25" stroke-width="1"/>
<polygon points="1444.2,1044.2 1449.0,719.8 1459.7,715.2 1461.0,710.0 1465.5,676.1 1476.8,676.1 1482.4,686.6 1493.0,686.6 1498.6,691.1 1509.8,691.1 1520.4,687.4 1712.2,687.3 1717.4,682.0 1853.7,682.0 1859.8,677.9 1865.0,677.9 1870.1,671.7 1914.2,671.7 1920.3,663.2 1930.6,663.4 1936.7,657.3 1947.0,657.5 1952.1,651.5 1979.8,654.9 1985.0,657.9 1985.0,657.9 1979.8,674.9 1952.1,678.3 1947.0,684.5 1936.7,684.7 1930.6,691.0 1920.3,691.2 1914.2,695.7 1870.1,695.7 1865.0,701.9 1859.8,701.9 1853.7,710.0 1717.4,710.0 1712.2,718.3 1520.4,718.4 1509.8,740.5 1498.6,740.5 1493.0,756.6 1482.4,756.6 1476.8,793.3 1465.5,793.3 1461.0,890.0 1459.7,947.2 1449.0,951.8 1444.2,1044.2" fill="#008000" fill-opacity="0.2" stroke="#008000" stroke-opacity="0.25" stroke-width="1"/>
<line x1="1444.3" y1="1044.2" x2="1985.0" y2="658.3" stroke="#000" stroke-width="1.4" stroke-dasharray="5.5 2.4"/>
<polyline points="1444.2,1044.2 1449.2,998.8 1460.4,995.0 1465.7,862.6 1476.9,862.6 1481.8,813.3 1493.0,813.3 1498.6,776.5 1509.8,776.5 1514.8,738.5 1520.4,731.6 1526.6,731.6 1531.0,695.5 1542.2,695.5 1547.8,689.2 1640.5,689.5 1645.6,682.9 1788.1,682.9 1793.2,670.4 1859.8,670.4 1865.0,664.9 1876.2,664.9 1881.4,658.7 1985.0,657.9" fill="none" stroke="#0000ff" stroke-width="2.6" stroke-linejoin="miter"/>
<polyline points="1444.2,1044.2 1447.5,900.0 1449.3,781.5 1460.6,779.6 1465.5,770.9 1470.5,719.8 1482.4,719.8 1493.6,711.7 1503.6,711.7 1509.8,707.6 1547.8,707.6 1552.8,704.6 1570.3,704.6 1580.9,695.5 1596.4,696.0 1602.1,687.0 1624.1,687.0 1645.6,682.9 1733.8,682.9 1738.9,678.6 1777.8,678.6 1784.0,674.1 1799.3,674.1 1804.5,670.4 1892.6,670.4 1897.8,666.5 1919.3,666.5 1925.4,662.4 1979.8,662.4 1985.0,657.9" fill="none" stroke="#ff0000" stroke-width="2.6" stroke-linejoin="miter"/>
<polyline points="1444.2,1044.2 1449.0,835.8 1459.7,831.2 1461.0,800.0 1465.5,734.7 1476.8,734.7 1482.4,721.6 1493.0,721.6 1498.6,715.8 1509.8,715.8 1520.4,702.9 1712.2,702.8 1717.4,696.0 1853.7,696.0 1859.8,689.9 1865.0,689.9 1870.1,683.7 1914.2,683.7 1920.3,677.2 1930.6,677.2 1936.7,671.0 1947.0,671.0 1952.1,664.9 1979.8,664.9 1985.0,657.9" fill="none" stroke="#008000" stroke-width="2.6" stroke-linejoin="miter"/>
</g>
<rect x="1444.3" y="639.0" width="540.7" height="405.20000000000005" fill="none" stroke="#3a3a3a" stroke-width="1.4"/>
<line x1="1439.8" y1="1044.2" x2="1444.3" y2="1044.2" stroke="#000" stroke-width="1.3"/>
<line x1="1444.3" y1="1044.2" x2="1444.3" y2="1048.7" stroke="#000" stroke-width="1.3"/>
<text x="1437.0" y="1051.0" font-family='"DejaVu Sans", sans-serif' font-size="17.0" font-weight="normal" text-anchor="end" fill="#000">0.0</text>
<text x="1444.3" y="1064.7" font-family='"DejaVu Sans", sans-serif' font-size="17.0" font-weight="normal" text-anchor="middle" fill="#000">0.0</text>
<line x1="1439.8" y1="967.0" x2="1444.3" y2="967.0" stroke="#000" stroke-width="1.3"/>
<line x1="1552.4" y1="1044.2" x2="1552.4" y2="1048.7" stroke="#000" stroke-width="1.3"/>
<text x="1437.0" y="973.8" font-family='"DejaVu Sans", sans-serif' font-size="17.0" font-weight="normal" text-anchor="end" fill="#000">0.2</text>
<text x="1552.4" y="1064.7" font-family='"DejaVu Sans", sans-serif' font-size="17.0" font-weight="normal" text-anchor="middle" fill="#000">0.2</text>
<line x1="1439.8" y1="889.8" x2="1444.3" y2="889.8" stroke="#000" stroke-width="1.3"/>
<line x1="1660.6" y1="1044.2" x2="1660.6" y2="1048.7" stroke="#000" stroke-width="1.3"/>
<text x="1437.0" y="896.6" font-family='"DejaVu Sans", sans-serif' font-size="17.0" font-weight="normal" text-anchor="end" fill="#000">0.4</text>
<text x="1660.6" y="1064.7" font-family='"DejaVu Sans", sans-serif' font-size="17.0" font-weight="normal" text-anchor="middle" fill="#000">0.4</text>
<line x1="1439.8" y1="812.7" x2="1444.3" y2="812.7" stroke="#000" stroke-width="1.3"/>
<line x1="1768.7" y1="1044.2" x2="1768.7" y2="1048.7" stroke="#000" stroke-width="1.3"/>
<text x="1437.0" y="819.5" font-family='"DejaVu Sans", sans-serif' font-size="17.0" font-weight="normal" text-anchor="end" fill="#000">0.6</text>
<text x="1768.7" y="1064.7" font-family='"DejaVu Sans", sans-serif' font-size="17.0" font-weight="normal" text-anchor="middle" fill="#000">0.6</text>
<line x1="1439.8" y1="735.5" x2="1444.3" y2="735.5" stroke="#000" stroke-width="1.3"/>
<line x1="1876.9" y1="1044.2" x2="1876.9" y2="1048.7" stroke="#000" stroke-width="1.3"/>
<text x="1437.0" y="742.3" font-family='"DejaVu Sans", sans-serif' font-size="17.0" font-weight="normal" text-anchor="end" fill="#000">0.8</text>
<text x="1876.9" y="1064.7" font-family='"DejaVu Sans", sans-serif' font-size="17.0" font-weight="normal" text-anchor="middle" fill="#000">0.8</text>
<line x1="1439.8" y1="658.3" x2="1444.3" y2="658.3" stroke="#000" stroke-width="1.3"/>
<line x1="1985.0" y1="1044.2" x2="1985.0" y2="1048.7" stroke="#000" stroke-width="1.3"/>
<text x="1437.0" y="665.1" font-family='"DejaVu Sans", sans-serif' font-size="17.0" font-weight="normal" text-anchor="end" fill="#000">1.0</text>
<text x="1985.0" y="1064.7" font-family='"DejaVu Sans", sans-serif' font-size="17.0" font-weight="normal" text-anchor="middle" fill="#000">1.0</text>
<text x="1576.5" y="623.4" font-family='"Liberation Sans", Arial, sans-serif' font-size="27.9" font-weight="normal" text-anchor="start" fill="#000">ROC curve of HD-CNN</text>
<text x="1715.2" y="1090.7" font-family='"DejaVu Sans", sans-serif' font-size="24.5" font-weight="normal" text-anchor="middle" fill="#000">False Positive Rate</text>
<text x="1400.4" y="841.6" font-family='"DejaVu Sans", sans-serif' font-size="24.7" font-weight="normal" text-anchor="middle" fill="#000" transform="rotate(-90 1400.4 841.6)">True Positive Rate</text>
<rect x="1484.6" y="951.4" width="491.4" height="84.1" rx="4" fill="#fff" fill-opacity="0.8" stroke="#d0d0d0" stroke-width="1.2"/>
<line x1="1491.0" y1="965.9" x2="1528.0" y2="965.9" stroke="#0000ff" stroke-width="2.3"/>
<text x="1541.7" y="972.4" font-family='"DejaVu Sans", sans-serif' font-size="17.8" font-weight="normal" text-anchor="start" fill="#000">Healthy control (AUC = 0.89, 95% CI 0.84–0.94)</text>
<line x1="1491.0" y1="992.1" x2="1528.0" y2="992.1" stroke="#ff0000" stroke-width="2.3"/>
<text x="1541.7" y="998.6" font-family='"DejaVu Sans", sans-serif' font-size="17.8" font-weight="normal" text-anchor="start" fill="#000">Lung cancer (AUC = 0.92, 95% CI 0.88–0.97)</text>
<line x1="1491.0" y1="1018.4" x2="1528.0" y2="1018.4" stroke="#008000" stroke-width="2.3"/>
<text x="1541.7" y="1024.9" font-family='"DejaVu Sans", sans-serif' font-size="17.8" font-weight="normal" text-anchor="start" fill="#000">Gastric cancer (AUC = 0.89, 95% CI 0.85–0.92)</text>
<polygon points="648.6,1362.5 676.5,1390.4 648.6,1418.3 620.7,1390.4" fill="none" stroke="#c8c8c8" stroke-width="1.2"/>
<polygon points="648.6,1334.6 704.4,1390.4 648.6,1446.2 592.8,1390.4" fill="none" stroke="#c8c8c8" stroke-width="1.2"/>
<polygon points="648.6,1306.7 732.4,1390.4 648.6,1474.2 564.9,1390.4" fill="none" stroke="#c8c8c8" stroke-width="1.2"/>
<polygon points="648.6,1278.7 760.3,1390.4 648.6,1502.1 536.9,1390.4" fill="none" stroke="#c8c8c8" stroke-width="1.2"/>
<polygon points="648.6,1250.8 788.2,1390.4 648.6,1530.0 509.0,1390.4" fill="none" stroke="#c8c8c8" stroke-width="1.2"/>
<polygon points="648.6,1222.9 816.1,1390.4 648.6,1557.9 481.1,1390.4" fill="none" stroke="#c8c8c8" stroke-width="1.2"/>
<line x1="648.6" y1="1222.9" x2="648.6" y2="1557.9" stroke="#a8a8a8" stroke-width="2"/>
<line x1="481.1" y1="1390.4" x2="816.1" y2="1390.4" stroke="#a8a8a8" stroke-width="2"/>
<text x="648.6" y="1369.5" font-family='"Liberation Sans", Arial, sans-serif' font-size="17.5" font-weight="normal" text-anchor="middle" fill="#111">0.5</text>
<text x="648.6" y="1341.6" font-family='"Liberation Sans", Arial, sans-serif' font-size="17.5" font-weight="normal" text-anchor="middle" fill="#111">0.6</text>
<text x="648.6" y="1313.7" font-family='"Liberation Sans", Arial, sans-serif' font-size="17.5" font-weight="normal" text-anchor="middle" fill="#111">0.7</text>
<text x="648.6" y="1285.7" font-family='"Liberation Sans", Arial, sans-serif' font-size="17.5" font-weight="normal" text-anchor="middle" fill="#111">0.8</text>
<text x="648.6" y="1257.8" font-family='"Liberation Sans", Arial, sans-serif' font-size="17.5" font-weight="normal" text-anchor="middle" fill="#111">0.9</text>
<text x="648.6" y="1229.9" font-family='"Liberation Sans", Arial, sans-serif' font-size="17.5" font-weight="normal" text-anchor="middle" fill="#111">1.0</text>
<polygon points="648.6,1245.0 792.9,1390.4 648.6,1535.6 503.4,1390.4" fill="none" stroke="#1f1fef" stroke-width="3.4" stroke-linejoin="miter"/>
<polygon points="648.6,1236.9 802.1,1390.4 648.6,1541.2 495.9,1390.4" fill="none" stroke="#b41e1e" stroke-width="3.4" stroke-linejoin="miter"/>
<text x="648.6" y="1199.4" font-family='"Liberation Sans", Arial, sans-serif' font-size="22" font-weight="normal" text-anchor="middle" fill="#000">Accuracy</text>
<text x="446.1" y="1399.4" font-family='"Liberation Sans", Arial, sans-serif' font-size="22" font-weight="normal" text-anchor="end" fill="#000">F1 score</text>
<text x="850.6" y="1399.4" font-family='"Liberation Sans", Arial, sans-serif' font-size="22" font-weight="normal" text-anchor="start" fill="#000">Recall</text>
<text x="648.6" y="1602.4" font-family='"Liberation Sans", Arial, sans-serif' font-size="22" font-weight="normal" text-anchor="middle" fill="#000">Precision</text>
<rect x="779.2" y="1180.2" width="145" height="58.2" fill="#fff" stroke="#444" stroke-width="1"/>
<line x1="784.0" y1="1195.8" x2="833.6" y2="1195.8" stroke="#1f1fef" stroke-width="3.4"/>
<line x1="784.0" y1="1222.7" x2="833.6" y2="1222.7" stroke="#b41e1e" stroke-width="3.4"/>
<text x="838.2" y="1203.7" font-family='"Liberation Sans", Arial, sans-serif' font-size="21" font-weight="normal" text-anchor="start" fill="#000">CNN</text>
<text x="838.2" y="1230.6" font-family='"Liberation Sans", Arial, sans-serif' font-size="21" font-weight="normal" text-anchor="start" fill="#000">HD-CNN</text>
<polygon points="1368.6,1361.9 1396.5,1389.8 1368.6,1417.7 1340.7,1389.8" fill="none" stroke="#c8c8c8" stroke-width="1.2"/>
<polygon points="1368.6,1334.0 1424.4,1389.8 1368.6,1445.6 1312.8,1389.8" fill="none" stroke="#c8c8c8" stroke-width="1.2"/>
<polygon points="1368.6,1306.0 1452.3,1389.8 1368.6,1473.5 1284.8,1389.8" fill="none" stroke="#c8c8c8" stroke-width="1.2"/>
<polygon points="1368.6,1278.1 1480.3,1389.8 1368.6,1501.5 1256.9,1389.8" fill="none" stroke="#c8c8c8" stroke-width="1.2"/>
<polygon points="1368.6,1250.2 1508.2,1389.8 1368.6,1529.4 1229.0,1389.8" fill="none" stroke="#c8c8c8" stroke-width="1.2"/>
<polygon points="1368.6,1222.3 1536.1,1389.8 1368.6,1557.3 1201.1,1389.8" fill="none" stroke="#c8c8c8" stroke-width="1.2"/>
<line x1="1368.6" y1="1222.3" x2="1368.6" y2="1557.3" stroke="#a8a8a8" stroke-width="2"/>
<line x1="1201.1" y1="1389.8" x2="1536.1" y2="1389.8" stroke="#a8a8a8" stroke-width="2"/>
<text x="1368.6" y="1368.9" font-family='"Liberation Sans", Arial, sans-serif' font-size="17.5" font-weight="normal" text-anchor="middle" fill="#111">0.5</text>
<text x="1368.6" y="1341.0" font-family='"Liberation Sans", Arial, sans-serif' font-size="17.5" font-weight="normal" text-anchor="middle" fill="#111">0.6</text>
<text x="1368.6" y="1313.0" font-family='"Liberation Sans", Arial, sans-serif' font-size="17.5" font-weight="normal" text-anchor="middle" fill="#111">0.7</text>
<text x="1368.6" y="1285.1" font-family='"Liberation Sans", Arial, sans-serif' font-size="17.5" font-weight="normal" text-anchor="middle" fill="#111">0.8</text>
<text x="1368.6" y="1257.2" font-family='"Liberation Sans", Arial, sans-serif' font-size="17.5" font-weight="normal" text-anchor="middle" fill="#111">0.9</text>
<text x="1368.6" y="1229.3" font-family='"Liberation Sans", Arial, sans-serif' font-size="17.5" font-weight="normal" text-anchor="middle" fill="#111">1.0</text>
<polygon points="1368.6,1284.8 1474.1,1389.8 1368.6,1492.8 1265.6,1389.8" fill="none" stroke="#1f1fef" stroke-width="3.4" stroke-linejoin="miter"/>
<polygon points="1368.6,1260.8 1497.6,1389.8 1368.6,1518.2 1242.1,1389.8" fill="none" stroke="#b41e1e" stroke-width="3.4" stroke-linejoin="miter"/>
<text x="1368.6" y="1198.8" font-family='"Liberation Sans", Arial, sans-serif' font-size="22" font-weight="normal" text-anchor="middle" fill="#000">Accuracy</text>
<text x="1166.1" y="1398.8" font-family='"Liberation Sans", Arial, sans-serif' font-size="22" font-weight="normal" text-anchor="end" fill="#000">F1 score</text>
<text x="1570.6" y="1398.8" font-family='"Liberation Sans", Arial, sans-serif' font-size="22" font-weight="normal" text-anchor="start" fill="#000">Recall</text>
<text x="1368.6" y="1601.8" font-family='"Liberation Sans", Arial, sans-serif' font-size="22" font-weight="normal" text-anchor="middle" fill="#000">Precision</text>
<rect x="1496" y="1181.8" width="145" height="58.2" fill="#fff" stroke="#444" stroke-width="1"/>
<line x1="1500.8" y1="1197.4" x2="1550.4" y2="1197.4" stroke="#1f1fef" stroke-width="3.4"/>
<line x1="1500.8" y1="1224.3" x2="1550.4" y2="1224.3" stroke="#b41e1e" stroke-width="3.4"/>
<text x="1555.0" y="1205.3" font-family='"Liberation Sans", Arial, sans-serif' font-size="21" font-weight="normal" text-anchor="start" fill="#000">CNN</text>
<text x="1555.0" y="1232.2" font-family='"Liberation Sans", Arial, sans-serif' font-size="21" font-weight="normal" text-anchor="start" fill="#000">HD-CNN</text>
</svg></body></html>
